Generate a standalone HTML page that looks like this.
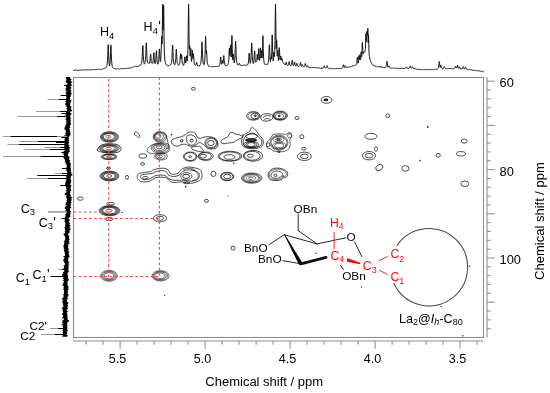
<!DOCTYPE html>
<html><head><meta charset="utf-8"><style>
html,body{margin:0;padding:0;background:#fff;}
body{width:550px;height:393px;overflow:hidden;}
svg{display:block;font-family:"Liberation Sans", sans-serif;will-change:transform;}
</style></head><body>
<svg width="550" height="393" viewBox="0 0 550 393">
<rect x="73.5" y="77.5" width="410" height="260" fill="none" stroke="#8c8c8c" stroke-width="1.1"/>
<line x1="73" y1="341" x2="483.5" y2="341" stroke="#8c8c8c" stroke-width="1.1"/>
<line x1="86.10" y1="341" x2="86.10" y2="344.8" stroke="#8c8c8c" stroke-width="1"/>
<line x1="103.10" y1="341" x2="103.10" y2="344.8" stroke="#8c8c8c" stroke-width="1"/>
<line x1="120.10" y1="341" x2="120.10" y2="348.8" stroke="#8c8c8c" stroke-width="1"/>
<line x1="137.10" y1="341" x2="137.10" y2="344.8" stroke="#8c8c8c" stroke-width="1"/>
<line x1="154.10" y1="341" x2="154.10" y2="344.8" stroke="#8c8c8c" stroke-width="1"/>
<line x1="171.10" y1="341" x2="171.10" y2="344.8" stroke="#8c8c8c" stroke-width="1"/>
<line x1="188.10" y1="341" x2="188.10" y2="344.8" stroke="#8c8c8c" stroke-width="1"/>
<line x1="205.10" y1="341" x2="205.10" y2="348.8" stroke="#8c8c8c" stroke-width="1"/>
<line x1="222.10" y1="341" x2="222.10" y2="344.8" stroke="#8c8c8c" stroke-width="1"/>
<line x1="239.10" y1="341" x2="239.10" y2="344.8" stroke="#8c8c8c" stroke-width="1"/>
<line x1="256.10" y1="341" x2="256.10" y2="344.8" stroke="#8c8c8c" stroke-width="1"/>
<line x1="273.10" y1="341" x2="273.10" y2="344.8" stroke="#8c8c8c" stroke-width="1"/>
<line x1="290.10" y1="341" x2="290.10" y2="348.8" stroke="#8c8c8c" stroke-width="1"/>
<line x1="307.10" y1="341" x2="307.10" y2="344.8" stroke="#8c8c8c" stroke-width="1"/>
<line x1="324.10" y1="341" x2="324.10" y2="344.8" stroke="#8c8c8c" stroke-width="1"/>
<line x1="341.10" y1="341" x2="341.10" y2="344.8" stroke="#8c8c8c" stroke-width="1"/>
<line x1="358.10" y1="341" x2="358.10" y2="344.8" stroke="#8c8c8c" stroke-width="1"/>
<line x1="375.10" y1="341" x2="375.10" y2="348.8" stroke="#8c8c8c" stroke-width="1"/>
<line x1="392.10" y1="341" x2="392.10" y2="344.8" stroke="#8c8c8c" stroke-width="1"/>
<line x1="409.10" y1="341" x2="409.10" y2="344.8" stroke="#8c8c8c" stroke-width="1"/>
<line x1="426.10" y1="341" x2="426.10" y2="344.8" stroke="#8c8c8c" stroke-width="1"/>
<line x1="443.10" y1="341" x2="443.10" y2="344.8" stroke="#8c8c8c" stroke-width="1"/>
<line x1="460.10" y1="341" x2="460.10" y2="348.8" stroke="#8c8c8c" stroke-width="1"/>
<line x1="477.10" y1="341" x2="477.10" y2="344.8" stroke="#8c8c8c" stroke-width="1"/>
<line x1="487" y1="77" x2="487" y2="337.5" stroke="#8c8c8c" stroke-width="1.1"/>
<line x1="487" y1="81.20" x2="494.8" y2="81.20" stroke="#8c8c8c" stroke-width="1"/>
<line x1="487" y1="90.04" x2="490.8" y2="90.04" stroke="#8c8c8c" stroke-width="1"/>
<line x1="487" y1="98.88" x2="490.8" y2="98.88" stroke="#8c8c8c" stroke-width="1"/>
<line x1="487" y1="107.72" x2="490.8" y2="107.72" stroke="#8c8c8c" stroke-width="1"/>
<line x1="487" y1="116.56" x2="490.8" y2="116.56" stroke="#8c8c8c" stroke-width="1"/>
<line x1="487" y1="125.40" x2="494.8" y2="125.40" stroke="#8c8c8c" stroke-width="1"/>
<line x1="487" y1="134.24" x2="490.8" y2="134.24" stroke="#8c8c8c" stroke-width="1"/>
<line x1="487" y1="143.08" x2="490.8" y2="143.08" stroke="#8c8c8c" stroke-width="1"/>
<line x1="487" y1="151.92" x2="490.8" y2="151.92" stroke="#8c8c8c" stroke-width="1"/>
<line x1="487" y1="160.76" x2="490.8" y2="160.76" stroke="#8c8c8c" stroke-width="1"/>
<line x1="487" y1="169.60" x2="494.8" y2="169.60" stroke="#8c8c8c" stroke-width="1"/>
<line x1="487" y1="178.44" x2="490.8" y2="178.44" stroke="#8c8c8c" stroke-width="1"/>
<line x1="487" y1="187.28" x2="490.8" y2="187.28" stroke="#8c8c8c" stroke-width="1"/>
<line x1="487" y1="196.12" x2="490.8" y2="196.12" stroke="#8c8c8c" stroke-width="1"/>
<line x1="487" y1="204.96" x2="490.8" y2="204.96" stroke="#8c8c8c" stroke-width="1"/>
<line x1="487" y1="213.80" x2="494.8" y2="213.80" stroke="#8c8c8c" stroke-width="1"/>
<line x1="487" y1="222.64" x2="490.8" y2="222.64" stroke="#8c8c8c" stroke-width="1"/>
<line x1="487" y1="231.48" x2="490.8" y2="231.48" stroke="#8c8c8c" stroke-width="1"/>
<line x1="487" y1="240.32" x2="490.8" y2="240.32" stroke="#8c8c8c" stroke-width="1"/>
<line x1="487" y1="249.16" x2="490.8" y2="249.16" stroke="#8c8c8c" stroke-width="1"/>
<line x1="487" y1="258.00" x2="494.8" y2="258.00" stroke="#8c8c8c" stroke-width="1"/>
<line x1="487" y1="266.84" x2="490.8" y2="266.84" stroke="#8c8c8c" stroke-width="1"/>
<line x1="487" y1="275.68" x2="490.8" y2="275.68" stroke="#8c8c8c" stroke-width="1"/>
<line x1="487" y1="284.52" x2="490.8" y2="284.52" stroke="#8c8c8c" stroke-width="1"/>
<line x1="487" y1="293.36" x2="490.8" y2="293.36" stroke="#8c8c8c" stroke-width="1"/>
<line x1="487" y1="302.20" x2="494.8" y2="302.20" stroke="#8c8c8c" stroke-width="1"/>
<line x1="487" y1="311.04" x2="490.8" y2="311.04" stroke="#8c8c8c" stroke-width="1"/>
<line x1="487" y1="319.88" x2="490.8" y2="319.88" stroke="#8c8c8c" stroke-width="1"/>
<line x1="487" y1="328.72" x2="490.8" y2="328.72" stroke="#8c8c8c" stroke-width="1"/>
<text x="117.6" y="362.9" font-size="12.6" text-anchor="middle" fill="#000" >5.5</text>
<text x="202.6" y="362.9" font-size="12.6" text-anchor="middle" fill="#000" >5.0</text>
<text x="287.6" y="362.9" font-size="12.6" text-anchor="middle" fill="#000" >4.5</text>
<text x="372.6" y="362.9" font-size="12.6" text-anchor="middle" fill="#000" >4.0</text>
<text x="457.6" y="362.9" font-size="12.6" text-anchor="middle" fill="#000" >3.5</text>
<text x="499.6" y="87.1" font-size="12.8" text-anchor="start" fill="#000" >60</text>
<text x="499.6" y="175.5" font-size="12.8" text-anchor="start" fill="#000" >80</text>
<text x="499.6" y="263.9" font-size="12.8" text-anchor="start" fill="#000" >100</text>
<text x="264.2" y="386.3" font-size="13" text-anchor="middle" fill="#000" >Chemical shift / ppm</text>
<text transform="translate(543.7,221) rotate(-90)" font-size="13" text-anchor="middle" fill="#000">Chemical shift / ppm</text>
<polyline fill="none" stroke="#111" stroke-width="1.0" stroke-linejoin="round" points="73.0,70.28 73.2,70.18 73.5,70.43 73.8,70.13 74.0,70.35 74.2,70.26 74.5,70.10 74.8,70.31 75.0,70.07 75.2,70.26 75.5,70.07 75.8,70.07 76.0,70.23 76.2,70.42 76.5,70.06 76.8,70.10 77.0,70.29 77.2,70.45 77.5,70.25 77.8,70.15 78.0,70.43 78.2,69.96 78.5,70.36 78.8,70.07 79.0,69.98 79.2,69.96 79.5,70.05 79.8,70.30 80.0,69.97 80.2,70.16 80.5,70.18 80.8,70.04 81.0,70.12 81.2,69.87 81.5,69.86 81.8,69.92 82.0,70.15 82.2,70.01 82.5,69.95 82.8,70.08 83.0,70.00 83.2,69.92 83.5,70.16 83.8,70.10 84.0,69.86 84.2,70.02 84.5,69.99 84.8,70.15 85.0,70.07 85.2,69.84 85.5,70.18 85.8,69.74 86.0,69.88 86.2,70.04 86.5,69.73 86.8,69.89 87.0,69.66 87.2,69.96 87.5,70.00 87.8,69.90 88.0,70.04 88.2,69.75 88.5,69.93 88.8,69.87 89.0,69.86 89.2,69.79 89.5,69.97 89.8,70.01 90.0,69.77 90.2,69.86 90.5,69.55 90.8,69.86 91.0,69.82 91.2,69.99 91.5,69.89 91.8,69.61 92.0,69.66 92.2,69.79 92.5,69.46 92.8,69.67 93.0,69.51 93.2,69.48 93.5,69.44 93.8,69.79 94.0,69.46 94.2,69.51 94.5,69.57 94.8,69.80 95.0,69.40 95.2,69.57 95.5,69.62 95.8,69.77 96.0,69.73 96.2,69.75 96.5,69.44 96.8,69.50 97.0,69.47 97.2,69.72 97.5,69.75 97.8,69.34 98.0,69.34 98.2,69.36 98.5,69.35 98.8,69.47 99.0,69.51 99.2,69.33 99.5,69.19 99.8,69.38 100.0,69.35 100.2,69.41 100.5,69.57 100.8,69.40 101.0,69.28 101.2,69.29 101.5,69.28 101.8,68.93 102.0,69.31 102.2,69.21 102.5,69.21 102.8,69.13 103.0,68.88 103.2,68.83 103.5,68.62 103.8,68.83 104.0,68.48 104.2,68.41 104.5,68.40 104.8,68.28 105.0,68.26 105.2,67.99 105.5,67.81 105.8,67.69 106.0,67.42 106.2,67.26 106.5,66.67 106.8,66.47 107.0,65.35 107.2,63.46 107.5,60.61 107.8,55.49 108.0,48.05 108.2,44.61 108.2,45.22 108.5,51.45 108.8,58.02 109.0,62.19 109.2,64.32 109.5,65.69 109.8,65.08 110.0,63.18 110.2,60.18 110.5,54.08 110.8,46.56 110.9,45.03 111.0,45.75 111.2,52.63 111.5,59.19 111.8,62.65 112.0,65.00 112.2,66.47 112.5,67.19 112.8,67.63 113.0,67.78 113.2,68.07 113.5,68.15 113.8,68.59 114.0,68.57 114.2,68.77 114.5,68.61 114.8,68.60 115.0,68.93 115.2,69.05 115.5,69.01 115.8,69.01 116.0,69.03 116.2,69.00 116.5,68.75 116.8,68.91 117.0,68.83 117.2,68.67 117.5,68.67 117.8,68.78 118.0,68.76 118.2,68.97 118.5,69.09 118.8,68.82 119.0,69.06 119.2,69.07 119.5,69.05 119.8,68.74 120.0,68.66 120.2,68.65 120.5,68.62 120.8,68.62 121.0,68.82 121.2,68.94 121.5,68.90 121.8,68.71 122.0,68.78 122.2,68.85 122.5,68.48 122.8,68.75 123.0,68.87 123.2,68.79 123.5,68.76 123.8,68.62 124.0,68.45 124.2,68.75 124.5,68.51 124.8,68.73 125.0,68.80 125.2,68.48 125.5,68.46 125.8,68.70 126.0,68.56 126.2,68.25 126.5,68.20 126.8,68.18 127.0,68.53 127.2,68.45 127.5,68.09 127.8,68.40 128.0,68.45 128.2,68.25 128.5,68.07 128.8,68.14 129.0,67.90 129.2,67.81 129.5,68.25 129.8,68.06 130.0,67.97 130.2,68.14 130.5,67.86 130.8,68.04 131.0,67.99 131.2,67.65 131.5,67.63 131.8,67.62 132.0,67.56 132.2,67.58 132.5,67.27 132.8,67.20 133.0,66.91 133.2,67.15 133.5,66.73 133.8,66.63 134.0,66.54 134.2,66.69 134.5,66.43 134.8,66.67 135.0,66.44 135.2,66.44 135.5,66.42 135.8,66.16 136.0,66.35 136.2,66.20 136.5,66.10 136.8,66.47 137.0,66.14 137.2,66.27 137.5,66.38 137.8,66.27 138.0,66.13 138.2,66.20 138.5,66.20 138.8,66.16 139.0,65.68 139.2,65.76 139.5,65.45 139.8,65.31 140.0,65.41 140.2,65.12 140.5,64.99 140.8,64.91 141.0,64.55 141.2,63.86 141.5,63.24 141.8,62.05 142.0,60.11 142.2,56.71 142.5,50.85 142.8,45.72 142.8,45.49 143.0,48.52 143.2,54.69 143.5,59.15 143.8,61.64 144.0,62.70 144.2,63.70 144.5,64.17 144.8,63.83 145.0,62.68 145.2,61.39 145.5,59.34 145.8,55.20 146.0,48.77 146.2,42.81 146.3,42.88 146.5,46.12 146.8,53.31 147.0,57.89 147.2,60.96 147.5,62.53 147.8,62.93 148.0,63.25 148.2,63.24 148.5,62.83 148.8,63.16 149.0,62.85 149.2,62.87 149.5,63.10 149.8,62.99 150.0,60.84 150.2,57.87 150.5,54.46 150.6,53.92 150.8,54.83 151.0,58.55 151.2,61.58 151.5,62.75 151.8,63.06 152.0,63.06 152.2,62.90 152.5,63.12 152.8,63.33 153.0,62.14 153.2,59.62 153.5,56.29 153.8,52.78 153.8,52.74 154.0,54.15 154.2,58.39 154.5,61.15 154.8,63.15 155.0,63.78 155.2,63.34 155.5,62.34 155.8,60.54 156.0,56.92 156.2,52.02 156.4,50.72 156.5,51.69 156.8,55.88 157.0,59.87 157.2,61.87 157.5,63.14 157.8,64.22 158.0,63.95 158.2,62.99 158.5,62.10 158.8,59.60 159.0,55.58 159.2,49.92 159.4,48.88 159.5,49.15 159.8,54.56 160.0,58.86 160.2,61.44 160.5,61.61 160.8,59.76 161.0,55.86 161.2,49.44 161.5,40.49 161.7,36.27 161.8,36.50 162.0,44.06 162.2,36.99 162.5,15.47 162.7,4.11 162.8,4.97 163.0,25.20 163.2,30.18 163.5,8.74 163.6,5.34 163.8,12.27 164.0,34.03 164.2,48.05 164.5,54.94 164.8,59.00 165.0,61.03 165.2,62.17 165.5,63.18 165.8,64.01 166.0,64.02 166.2,64.70 166.5,64.75 166.8,64.97 167.0,65.30 167.2,65.20 167.5,65.36 167.8,65.53 168.0,65.75 168.2,65.49 168.5,65.79 168.8,65.74 169.0,65.72 169.2,65.57 169.5,65.47 169.8,65.23 170.0,65.15 170.2,64.97 170.5,65.09 170.8,64.55 171.0,64.06 171.2,63.36 171.5,62.67 171.8,60.88 172.0,57.55 172.2,51.84 172.5,45.68 172.6,44.90 172.8,46.73 173.0,53.09 173.2,58.27 173.5,61.05 173.8,63.03 174.0,64.01 174.2,64.42 174.5,64.68 174.8,64.82 175.0,63.91 175.2,62.99 175.5,61.20 175.8,58.49 176.0,53.76 176.2,49.47 176.3,49.15 176.5,51.64 176.8,56.63 177.0,60.39 177.2,62.35 177.5,63.68 177.8,64.21 178.0,64.66 178.2,65.11 178.5,65.29 178.8,65.43 179.0,65.14 179.2,64.85 179.5,64.16 179.8,63.09 180.0,61.23 180.2,57.64 180.5,53.90 180.6,53.74 180.8,54.38 181.0,58.61 181.2,58.52 181.5,54.82 181.6,54.77 181.8,55.77 182.0,59.24 182.2,62.09 182.5,63.72 182.8,64.29 183.0,65.02 183.2,65.36 183.5,65.42 183.8,64.96 184.0,64.24 184.2,62.81 184.5,60.66 184.8,57.59 184.9,56.80 185.0,56.94 185.2,59.65 185.5,62.23 185.8,63.02 186.0,60.84 186.2,58.00 186.5,55.73 186.8,57.91 187.0,61.12 187.2,61.01 187.5,58.49 187.8,53.96 188.0,46.11 188.2,29.83 188.5,7.54 188.6,4.22 188.8,11.32 189.0,33.59 189.2,48.24 189.5,48.69 189.7,45.79 189.8,46.09 190.0,51.54 190.2,56.22 190.5,50.84 190.7,48.44 190.8,48.38 191.0,52.99 191.2,58.21 191.5,61.45 191.8,59.30 192.0,54.64 192.2,50.53 192.3,50.09 192.5,52.36 192.8,57.44 193.0,58.70 193.2,54.48 193.4,53.53 193.5,53.76 193.8,57.57 194.0,61.08 194.2,63.28 194.5,64.41 194.8,64.79 195.0,64.79 195.2,65.08 195.5,65.20 195.8,65.33 196.0,64.55 196.2,63.77 196.5,62.12 196.6,62.34 196.8,62.69 197.0,63.62 197.2,64.91 197.5,65.71 197.8,66.13 198.0,65.97 198.2,65.92 198.5,65.93 198.8,66.28 199.0,65.82 199.2,65.89 199.5,65.51 199.8,65.50 200.0,65.43 200.2,64.61 200.5,64.35 200.8,63.26 201.0,61.93 201.2,59.18 201.5,54.20 201.8,47.13 202.0,41.99 202.2,46.70 202.5,54.11 202.8,59.10 203.0,61.74 203.2,63.21 203.5,64.07 203.8,64.78 204.0,64.68 204.2,64.22 204.5,62.62 204.8,60.91 205.0,56.93 205.2,48.64 205.5,38.24 205.6,36.51 205.8,40.04 206.0,50.74 206.2,53.61 206.5,50.35 206.8,53.93 207.0,58.64 207.2,61.68 207.5,63.48 207.8,64.42 208.0,64.94 208.2,65.37 208.5,66.00 208.8,65.92 209.0,66.39 209.2,66.15 209.5,66.24 209.8,66.43 210.0,66.32 210.2,66.45 210.5,66.78 210.8,66.77 211.0,66.75 211.2,66.66 211.5,66.80 211.8,66.82 212.0,66.62 212.2,66.70 212.5,66.37 212.8,66.71 213.0,66.57 213.2,66.72 213.5,66.66 213.8,66.48 214.0,66.36 214.2,66.80 214.5,66.40 214.8,66.57 215.0,66.50 215.2,66.48 215.5,66.70 215.8,66.81 216.0,66.45 216.2,66.65 216.5,66.47 216.8,66.59 217.0,66.51 217.2,66.39 217.5,66.38 217.8,66.39 218.0,66.68 218.2,66.41 218.5,66.19 218.8,66.41 219.0,66.28 219.2,65.74 219.5,65.17 219.8,64.52 220.0,63.30 220.2,61.35 220.5,58.23 220.7,56.97 220.8,57.07 221.0,59.67 221.2,62.53 221.5,64.10 221.8,64.34 222.0,62.87 222.2,61.03 222.4,60.44 222.5,60.65 222.8,62.28 223.0,63.39 223.2,61.82 223.5,58.26 223.8,55.61 223.8,55.56 224.0,57.20 224.2,60.29 224.5,62.68 224.8,64.00 225.0,64.83 225.2,65.30 225.5,65.84 225.8,65.96 226.0,65.92 226.2,65.43 226.5,65.38 226.8,65.65 227.0,65.67 227.2,65.38 227.5,65.27 227.8,64.61 228.0,64.27 228.2,63.69 228.5,62.24 228.8,59.78 229.0,55.52 229.2,49.58 229.4,48.00 229.5,48.72 229.8,54.15 230.0,55.64 230.2,49.32 230.5,44.91 230.8,49.15 231.0,55.63 231.2,57.10 231.5,50.03 231.8,38.57 231.9,35.44 232.0,36.82 232.2,48.15 232.5,56.07 232.8,59.99 233.0,58.44 233.2,54.70 233.4,53.87 233.5,54.37 233.8,57.64 234.0,60.82 234.2,62.92 234.5,61.89 234.8,59.67 235.0,55.81 235.2,49.56 235.5,42.11 235.6,41.30 235.8,43.41 236.0,51.21 236.2,56.90 236.5,60.35 236.8,62.03 237.0,63.03 237.2,63.73 237.5,64.56 237.8,64.75 238.0,64.78 238.2,64.80 238.5,65.09 238.8,64.80 239.0,63.94 239.2,63.21 239.3,63.38 239.5,63.85 239.8,64.28 240.0,64.71 240.2,65.07 240.5,65.13 240.8,65.27 241.0,65.03 241.2,65.34 241.5,65.31 241.8,65.20 242.0,65.05 242.2,65.44 242.5,65.11 242.8,65.36 243.0,65.07 243.2,65.06 243.5,65.32 243.8,65.09 244.0,65.41 244.2,65.17 244.5,65.01 244.8,65.02 245.0,65.11 245.2,65.22 245.5,65.35 245.8,64.93 246.0,65.04 246.2,64.94 246.5,65.30 246.8,64.86 247.0,64.80 247.2,64.78 247.5,64.74 247.8,64.66 248.0,64.13 248.2,63.18 248.5,61.79 248.8,59.05 249.0,54.85 249.2,53.04 249.2,53.54 249.5,56.66 249.8,59.86 250.0,62.34 250.2,63.33 250.5,62.38 250.8,60.79 251.0,57.97 251.2,53.01 251.5,46.12 251.7,43.03 251.8,43.55 252.0,48.93 252.2,55.77 252.5,59.29 252.8,61.55 253.0,63.05 253.2,63.63 253.5,63.25 253.8,61.79 254.0,59.73 254.2,55.81 254.5,51.78 254.6,50.85 254.8,52.16 255.0,56.99 255.2,60.08 255.5,62.04 255.8,62.10 256.0,61.95 256.2,61.49 256.5,61.41 256.8,60.40 257.0,57.56 257.2,54.29 257.3,54.42 257.5,56.09 257.8,59.39 258.0,59.94 258.2,56.60 258.5,51.12 258.7,48.58 258.8,48.98 259.0,53.15 259.2,57.98 259.5,60.79 259.8,59.20 260.0,54.93 260.2,49.17 260.4,47.82 260.5,48.07 260.8,53.47 261.0,58.12 261.2,53.72 261.5,50.63 261.8,53.44 262.0,58.01 262.2,56.98 262.5,50.10 262.8,39.42 262.9,35.64 263.0,37.57 263.2,48.25 263.5,56.15 263.8,60.12 264.0,62.11 264.2,63.14 264.5,63.86 264.8,64.34 265.0,64.60 265.2,64.27 265.5,64.34 265.8,64.62 266.0,64.37 266.2,64.27 266.5,64.25 266.8,64.50 267.0,64.37 267.2,64.68 267.5,64.60 267.8,64.37 268.0,63.40 268.2,62.34 268.5,60.73 268.8,58.06 269.0,53.14 269.2,46.52 269.4,44.67 269.5,45.57 269.8,51.81 270.0,57.35 270.2,60.62 270.5,61.68 270.8,58.95 271.0,56.91 271.2,59.04 271.5,57.56 271.8,51.42 272.0,40.41 272.2,34.82 272.2,34.99 272.5,45.13 272.8,54.30 273.0,59.01 273.2,60.98 273.5,57.54 273.8,53.16 273.9,52.05 274.0,52.88 274.2,56.66 274.5,56.55 274.8,51.36 275.0,40.48 275.2,20.60 275.5,4.00 275.8,20.34 276.0,40.57 276.2,48.70 276.5,41.20 276.6,39.77 276.8,42.04 277.0,49.94 277.2,56.16 277.5,54.53 277.8,50.30 277.8,50.32 278.0,52.23 278.2,57.38 278.5,60.58 278.8,57.63 279.0,52.75 279.2,48.20 279.3,47.60 279.5,50.36 279.8,55.99 280.0,59.70 280.2,59.89 280.5,58.53 280.8,56.05 280.8,55.98 281.0,57.51 281.2,59.86 281.5,59.93 281.8,59.75 282.0,58.41 282.2,60.09 282.5,61.67 282.8,62.15 283.0,62.47 283.2,63.10 283.5,63.27 283.8,63.29 284.0,63.53 284.2,63.89 284.5,64.15 284.8,64.36 285.0,64.24 285.2,64.41 285.5,64.79 285.8,63.83 286.0,62.54 286.2,62.00 286.2,62.37 286.5,63.09 286.8,64.38 287.0,64.98 287.2,65.24 287.5,65.53 287.8,65.65 288.0,65.39 288.2,65.06 288.5,64.76 288.8,63.48 289.0,61.91 289.2,61.70 289.2,61.51 289.5,62.95 289.8,64.13 290.0,65.21 290.2,65.47 290.5,65.61 290.8,65.51 291.0,65.54 291.2,65.17 291.5,64.57 291.8,62.84 292.0,61.20 292.2,60.24 292.2,60.37 292.5,61.78 292.8,63.62 293.0,64.82 293.2,65.64 293.5,65.59 293.8,65.42 294.0,64.90 294.2,63.81 294.5,62.12 294.6,61.91 294.8,62.71 295.0,64.14 295.2,64.99 295.5,65.41 295.8,66.21 296.0,65.86 296.2,65.66 296.5,64.70 296.8,63.74 296.9,63.13 297.0,63.58 297.2,64.33 297.5,65.35 297.8,66.12 298.0,66.43 298.2,66.30 298.5,66.44 298.8,66.53 299.0,66.50 299.2,66.29 299.5,65.90 299.8,65.51 300.0,64.94 300.2,63.75 300.5,62.47 300.8,63.61 301.0,65.02 301.2,65.50 301.5,66.38 301.8,65.71 302.0,65.23 302.2,64.55 302.3,64.56 302.5,64.78 302.8,65.66 303.0,66.32 303.2,66.58 303.5,66.89 303.8,66.81 304.0,66.68 304.2,66.27 304.5,66.19 304.8,65.46 305.0,64.21 305.2,63.47 305.3,63.44 305.5,63.84 305.8,64.96 306.0,65.99 306.2,66.30 306.5,66.61 306.8,66.94 307.0,66.62 307.2,66.43 307.5,65.94 307.7,65.47 307.8,65.79 308.0,65.98 308.2,66.81 308.5,67.15 308.8,67.20 309.0,67.09 309.2,67.39 309.5,67.35 309.8,67.66 310.0,67.26 310.2,67.64 310.5,67.73 310.8,67.61 311.0,67.67 311.2,67.37 311.5,67.78 311.8,67.55 312.0,67.80 312.2,67.80 312.5,67.44 312.8,67.76 313.0,67.85 313.2,67.43 313.5,67.59 313.8,67.81 314.0,67.52 314.2,67.91 314.5,67.61 314.8,67.90 315.0,67.58 315.2,67.77 315.5,68.00 315.8,67.66 316.0,67.70 316.2,67.84 316.5,67.76 316.8,67.63 317.0,67.72 317.2,67.72 317.5,68.13 317.8,68.01 318.0,68.14 318.2,67.79 318.5,68.11 318.8,67.79 319.0,68.01 319.2,68.08 319.5,67.96 319.8,68.23 320.0,68.08 320.2,68.11 320.5,68.28 320.8,67.90 321.0,68.36 321.2,68.19 321.5,68.09 321.8,68.31 322.0,68.06 322.2,68.43 322.5,68.20 322.8,68.04 323.0,68.17 323.2,67.87 323.5,67.50 323.8,67.34 324.0,66.26 324.2,65.98 324.3,65.68 324.5,66.25 324.8,67.26 325.0,67.64 325.2,68.02 325.5,68.04 325.8,67.99 326.0,67.91 326.2,67.79 326.5,67.69 326.8,67.01 327.0,66.18 327.2,66.00 327.2,65.65 327.5,66.43 327.8,67.46 328.0,67.65 328.2,67.92 328.5,68.27 328.8,68.26 329.0,68.47 329.2,68.44 329.5,68.64 329.8,68.65 330.0,68.48 330.2,68.68 330.5,68.61 330.8,68.44 331.0,68.83 331.2,68.49 331.5,68.44 331.8,68.41 332.0,68.68 332.2,68.79 332.5,68.75 332.8,68.55 333.0,68.48 333.2,68.35 333.5,68.67 333.8,68.63 334.0,68.52 334.2,68.66 334.5,68.56 334.8,68.80 335.0,68.70 335.2,68.45 335.5,68.78 335.8,68.35 336.0,68.59 336.2,68.52 336.5,68.43 336.8,68.34 337.0,68.70 337.2,68.31 337.5,68.58 337.8,68.77 338.0,68.36 338.2,68.39 338.5,68.59 338.8,68.53 339.0,68.60 339.2,68.68 339.5,68.35 339.8,68.42 340.0,68.41 340.2,68.24 340.5,68.63 340.8,68.54 341.0,68.46 341.2,68.07 341.5,68.45 341.8,68.36 342.0,68.14 342.2,68.09 342.5,67.66 342.8,67.06 343.0,66.17 343.2,65.16 343.4,64.77 343.5,65.03 343.8,66.18 344.0,67.00 344.2,67.56 344.5,67.59 344.8,66.88 345.0,66.26 345.2,65.50 345.3,65.64 345.5,65.85 345.8,66.49 346.0,67.21 346.2,67.65 346.5,67.31 346.8,67.59 347.0,67.11 347.2,67.19 347.5,67.13 347.8,67.34 348.0,67.39 348.2,67.24 348.5,66.98 348.8,67.20 349.0,66.87 349.2,66.78 349.5,67.06 349.8,66.86 350.0,66.84 350.2,66.78 350.5,66.89 350.8,66.58 351.0,66.72 351.2,66.59 351.5,66.62 351.8,66.35 352.0,66.44 352.2,66.30 352.5,66.11 352.8,65.99 353.0,66.13 353.2,65.78 353.5,66.13 353.8,65.66 353.9,65.56 354.0,65.56 354.2,65.89 354.5,65.50 354.8,65.30 355.0,65.14 355.2,65.04 355.5,65.25 355.8,65.10 356.0,64.99 356.2,64.90 356.5,64.43 356.8,63.34 357.0,60.84 357.2,57.98 357.4,57.16 357.5,57.59 357.8,60.10 358.0,63.14 358.2,63.09 358.5,60.42 358.8,56.53 358.9,55.65 359.0,56.04 359.2,59.30 359.5,59.60 359.8,55.69 359.9,54.57 360.0,55.15 360.2,58.74 360.5,59.71 360.8,58.53 361.0,53.80 361.2,52.03 361.2,51.91 361.5,55.87 361.8,56.53 362.0,51.84 362.2,44.32 362.4,42.29 362.5,43.47 362.8,50.52 363.0,53.77 363.2,53.40 363.4,51.90 363.5,52.67 363.8,53.16 364.0,52.65 364.2,52.57 364.5,52.20 364.8,51.82 365.0,50.81 365.2,49.89 365.5,48.33 365.8,37.19 365.9,33.68 366.0,35.12 366.2,41.53 366.5,38.35 366.8,35.40 366.9,31.45 367.0,33.66 367.2,34.36 367.5,35.26 367.8,28.94 367.8,28.40 368.0,35.78 368.2,43.11 368.5,34.70 368.8,43.21 369.0,53.36 369.1,53.68 369.2,55.16 369.5,56.69 369.8,58.01 370.0,59.38 370.2,60.23 370.5,60.83 370.8,61.78 371.0,62.08 371.2,62.93 371.5,63.32 371.8,63.75 372.0,64.00 372.2,64.16 372.5,64.44 372.8,64.67 373.0,65.13 373.2,64.92 373.5,65.49 373.8,65.22 374.0,65.45 374.2,65.61 374.5,66.05 374.8,65.95 375.0,65.99 375.2,66.34 375.5,66.10 375.8,66.29 376.0,66.40 376.2,66.59 376.5,66.65 376.8,66.66 377.0,66.57 377.2,66.61 377.5,66.58 377.8,66.53 378.0,66.08 378.2,66.49 378.5,66.76 378.8,66.94 379.0,67.15 379.2,67.09 379.5,66.89 379.8,67.10 380.0,67.29 380.2,66.48 380.5,65.92 380.6,65.90 380.8,66.26 381.0,66.92 381.2,67.03 381.5,67.14 381.8,67.21 382.0,67.28 382.2,67.40 382.5,67.24 382.8,67.35 383.0,67.30 383.2,67.71 383.5,67.61 383.8,67.32 384.0,67.76 384.2,67.35 384.5,67.51 384.8,67.83 385.0,67.75 385.2,67.64 385.5,67.34 385.8,66.98 386.0,66.80 386.2,65.83 386.5,64.62 386.8,62.75 387.0,61.27 387.2,62.77 387.5,64.95 387.8,66.17 388.0,66.79 388.2,67.27 388.5,66.93 388.8,66.08 389.0,65.85 389.2,66.23 389.5,67.10 389.8,67.64 390.0,67.66 390.2,67.88 390.5,68.04 390.8,67.89 391.0,67.80 391.2,68.06 391.5,68.15 391.8,68.11 392.0,68.09 392.2,68.17 392.5,68.10 392.8,68.09 393.0,68.01 393.2,67.95 393.5,68.12 393.8,67.86 394.0,68.03 394.2,68.22 394.5,68.20 394.8,68.17 395.0,67.99 395.2,68.08 395.5,68.11 395.8,68.20 396.0,68.10 396.2,68.25 396.5,68.38 396.8,68.02 397.0,68.26 397.2,68.33 397.5,68.15 397.8,68.21 398.0,68.46 398.2,68.00 398.5,68.26 398.8,68.07 399.0,68.39 399.2,68.48 399.5,68.28 399.8,68.08 400.0,68.32 400.2,68.31 400.5,68.41 400.8,68.32 401.0,68.39 401.2,68.49 401.5,68.34 401.8,68.30 402.0,68.57 402.2,68.21 402.5,68.46 402.8,68.32 403.0,68.51 403.2,68.20 403.5,68.64 403.8,68.33 404.0,68.19 404.2,68.31 404.5,68.38 404.8,68.17 405.0,68.33 405.2,68.27 405.5,68.30 405.8,67.94 406.0,67.56 406.2,67.01 406.5,66.92 406.8,67.38 407.0,67.72 407.2,67.92 407.5,68.41 407.8,68.32 408.0,68.30 408.2,68.28 408.5,68.57 408.8,68.53 409.0,68.35 409.2,68.11 409.5,67.88 409.8,67.23 410.0,66.79 410.2,65.75 410.3,65.87 410.5,66.36 410.8,67.26 411.0,67.71 411.2,67.98 411.5,68.08 411.8,67.47 412.0,67.23 412.2,66.73 412.2,67.00 412.5,67.20 412.8,67.81 413.0,68.08 413.2,68.36 413.5,68.36 413.8,68.34 414.0,68.75 414.2,68.56 414.5,68.57 414.8,68.62 415.0,68.72 415.2,68.74 415.5,68.89 415.8,68.94 416.0,68.84 416.2,69.17 416.5,69.18 416.8,68.83 417.0,69.26 417.2,69.34 417.5,69.33 417.8,69.05 418.0,69.44 418.2,69.39 418.5,69.12 418.8,69.17 419.0,69.68 419.2,69.58 419.5,69.42 419.8,69.39 420.0,69.46 420.2,69.50 420.5,69.77 420.8,69.56 421.0,69.46 421.2,69.84 421.5,69.78 421.8,69.46 422.0,69.83 422.2,69.68 422.5,69.77 422.8,69.71 423.0,69.82 423.2,69.77 423.5,69.79 423.8,69.47 424.0,69.72 424.2,69.63 424.5,69.74 424.8,69.59 425.0,69.81 425.2,69.64 425.5,69.49 425.8,69.48 426.0,69.43 426.2,69.60 426.5,69.39 426.8,69.59 427.0,69.43 427.2,69.60 427.5,69.60 427.8,69.62 428.0,69.78 428.2,69.35 428.5,69.77 428.8,69.58 429.0,69.62 429.2,69.67 429.5,69.76 429.8,69.53 430.0,69.55 430.2,69.82 430.5,69.37 430.8,69.65 431.0,69.65 431.2,69.35 431.5,69.63 431.8,69.67 432.0,69.79 432.2,69.49 432.5,69.82 432.8,69.58 433.0,69.56 433.2,69.76 433.5,69.32 433.8,69.66 434.0,69.60 434.2,69.45 434.5,69.70 434.8,69.44 435.0,69.48 435.2,69.48 435.5,69.56 435.8,69.24 436.0,69.31 436.2,69.26 436.5,69.26 436.8,69.33 437.0,68.98 437.2,69.14 437.5,68.79 437.8,68.65 438.0,68.24 438.2,67.91 438.5,67.37 438.8,65.86 439.0,63.72 439.2,61.50 439.3,61.41 439.5,62.45 439.8,64.97 440.0,66.64 440.2,67.40 440.5,65.81 440.8,65.06 440.8,65.09 441.0,65.49 441.2,66.53 441.5,67.54 441.8,67.88 442.0,68.25 442.2,68.77 442.5,68.70 442.8,68.78 443.0,68.73 443.2,68.60 443.5,68.13 443.8,67.59 444.0,66.82 444.2,66.50 444.2,66.47 444.5,67.11 444.8,67.55 445.0,68.18 445.2,68.29 445.5,68.56 445.8,68.29 446.0,68.37 446.2,68.33 446.5,68.73 446.8,68.82 447.0,68.70 447.2,68.57 447.5,68.81 447.8,68.80 448.0,68.69 448.2,68.54 448.5,68.57 448.8,68.63 449.0,68.58 449.2,68.64 449.5,68.74 449.8,68.89 450.0,68.45 450.2,68.71 450.5,68.44 450.8,68.48 451.0,68.83 451.2,68.71 451.5,68.88 451.8,68.63 452.0,68.41 452.2,68.59 452.5,68.69 452.8,68.85 453.0,68.86 453.2,68.60 453.5,68.56 453.8,68.39 454.0,68.63 454.2,68.36 454.5,68.24 454.8,68.02 455.0,67.73 455.2,67.56 455.5,66.54 455.7,66.63 455.8,66.22 456.0,67.25 456.2,67.58 456.5,67.96 456.8,68.07 457.0,67.29 457.2,66.60 457.5,65.28 457.6,65.08 457.8,65.75 458.0,66.85 458.2,67.80 458.5,68.25 458.8,68.11 459.0,67.96 459.2,67.34 459.5,66.78 459.8,67.48 460.0,67.83 460.2,68.63 460.5,68.76 460.8,68.56 461.0,68.66 461.2,69.05 461.5,69.14 461.8,68.73 462.0,68.77 462.2,68.86 462.5,68.35 462.8,68.29 463.0,67.43 463.2,66.60 463.3,66.73 463.5,67.19 463.8,67.89 464.0,68.55 464.2,68.59 464.5,69.09 464.8,68.70 465.0,68.52 465.2,67.96 465.5,67.24 465.6,67.14 465.8,67.53 466.0,68.29 466.2,68.74 466.5,68.94 466.8,68.98 467.0,68.98 467.2,69.51 467.5,69.43 467.8,69.54 468.0,69.33 468.2,69.51 468.5,69.74 468.8,69.71 469.0,69.64 469.2,69.53 469.5,69.63 469.8,69.89 470.0,69.67 470.2,69.86 470.5,69.86 470.8,70.04 471.0,70.03 471.2,69.80 471.5,69.69 471.8,69.85 472.0,69.97 472.2,70.08 472.5,70.23 472.8,70.30 473.0,69.91 473.2,70.34 473.5,70.36 473.8,70.42 474.0,70.30 474.2,70.19 474.5,70.51 474.8,70.52 475.0,70.49 475.2,70.64 475.5,70.39 475.8,70.29 476.0,70.56 476.2,70.71 476.5,70.45 476.8,70.76 477.0,70.88 477.2,70.56 477.5,70.78 477.8,70.85 478.0,70.78 478.2,70.68 478.5,70.74 478.8,71.02 479.0,71.07 479.2,70.94 479.5,70.79 479.8,71.18 480.0,71.19 480.2,70.96 480.5,71.16 480.8,71.36 481.0,71.38 481.2,71.23 481.5,71.24 481.8,71.33 482.0,71.17 482.2,71.20 482.5,71.23 482.8,71.52 483.0,71.38 483.2,71.52 483.5,71.47 483.8,71.56 484.0,71.41"/>
<polygon fill="#000" points="66.7,77.0 65.4,77.6 66.0,78.2 66.2,78.8 66.8,79.4 65.4,80.0 66.4,80.6 65.9,81.2 65.5,81.8 66.1,82.4 67.3,83.0 67.4,83.6 67.4,84.2 66.6,84.8 66.6,85.4 65.2,86.0 65.9,86.6 66.5,87.2 66.3,87.8 65.6,88.4 65.6,89.0 66.2,89.6 64.8,90.2 66.8,90.8 66.8,91.4 65.4,92.0 65.7,92.6 65.8,93.2 66.1,93.8 66.8,94.4 65.6,95.0 65.7,95.6 65.9,96.2 66.5,96.8 66.4,97.4 66.1,98.0 66.4,98.6 65.6,99.2 65.5,99.8 66.5,100.4 66.3,101.0 64.8,101.6 66.1,102.2 66.1,102.8 64.7,103.4 65.8,104.0 64.9,104.6 65.7,105.2 66.6,105.8 65.9,106.4 67.0,107.0 67.1,107.6 67.2,108.2 65.9,108.8 67.2,109.4 66.9,110.0 66.9,110.6 66.7,111.2 65.7,111.8 66.1,112.4 66.4,113.0 66.2,113.6 64.6,114.2 66.7,114.8 65.2,115.4 65.8,116.0 65.0,116.6 65.6,117.2 66.9,117.8 65.5,118.4 66.7,119.0 65.1,119.6 66.1,120.2 66.7,120.8 65.7,121.4 66.8,122.0 66.1,122.6 66.7,123.2 66.1,123.8 65.5,124.4 66.6,125.0 65.4,125.6 65.3,126.2 64.8,126.8 64.5,127.4 65.4,128.0 64.1,128.6 64.2,129.2 65.6,129.8 65.5,130.4 65.6,131.0 66.0,131.6 65.7,132.2 66.1,132.8 64.8,133.4 65.8,134.0 65.6,134.6 65.7,135.2 63.6,135.8 64.8,136.4 64.6,137.0 63.2,137.6 64.9,138.2 64.8,138.8 64.9,139.4 63.9,140.0 64.9,140.6 64.3,141.2 63.9,141.8 63.4,142.4 64.8,143.0 64.3,143.6 64.6,144.2 64.5,144.8 64.2,145.4 65.0,146.0 64.1,146.6 63.9,147.2 65.1,147.8 64.0,148.4 65.1,149.0 64.1,149.6 65.0,150.2 64.6,150.8 63.4,151.4 63.2,152.0 64.3,152.6 62.4,153.2 64.0,153.8 63.4,154.4 63.7,155.0 64.0,155.6 64.6,156.2 63.0,156.8 63.3,157.4 64.0,158.0 63.8,158.6 64.7,159.2 64.7,159.8 65.1,160.4 65.0,161.0 65.4,161.6 64.3,162.2 66.1,162.8 66.5,163.4 64.9,164.0 66.7,164.6 66.4,165.2 66.9,165.8 66.7,166.4 66.6,167.0 66.6,167.6 65.2,168.2 65.9,168.8 66.5,169.4 66.3,170.0 66.1,170.6 66.9,171.2 67.2,171.8 67.2,172.4 67.6,173.0 66.2,173.6 67.0,174.2 67.4,174.8 67.2,175.4 67.2,176.0 65.5,176.6 66.9,177.2 66.3,177.8 66.6,178.4 64.8,179.0 66.6,179.6 66.4,180.2 66.0,180.8 65.4,181.4 65.7,182.0 65.6,182.6 65.5,183.2 65.0,183.8 65.1,184.4 65.4,185.0 66.1,185.6 66.0,186.2 65.5,186.8 66.1,187.4 66.5,188.0 65.9,188.6 66.7,189.2 66.7,189.8 65.6,190.4 66.3,191.0 66.5,191.6 66.4,192.2 65.6,192.8 64.5,193.4 64.8,194.0 64.4,194.6 66.0,195.2 66.6,195.8 66.1,196.4 65.3,197.0 66.6,197.6 66.8,198.2 66.4,198.8 67.1,199.4 67.1,200.0 66.3,200.6 67.1,201.2 66.6,201.8 66.2,202.4 65.0,203.0 66.4,203.6 64.8,204.2 66.2,204.8 66.7,205.4 64.8,206.0 66.1,206.6 64.9,207.2 65.0,207.8 64.6,208.4 66.0,209.0 65.5,209.6 65.9,210.2 65.2,210.8 65.9,211.4 65.4,212.0 66.0,212.6 66.2,213.2 66.4,213.8 65.0,214.4 65.4,215.0 65.6,215.6 65.8,216.2 65.1,216.8 64.8,217.4 65.2,218.0 64.0,218.6 65.1,219.2 64.6,219.8 64.5,220.4 65.3,221.0 64.3,221.6 64.5,222.2 65.6,222.8 65.6,223.4 65.0,224.0 65.2,224.6 65.6,225.2 64.9,225.8 65.2,226.4 65.4,227.0 63.9,227.6 65.5,228.2 64.4,228.8 65.0,229.4 65.2,230.0 65.5,230.6 64.5,231.2 65.2,231.8 64.7,232.4 64.9,233.0 64.6,233.6 62.9,234.2 64.1,234.8 64.2,235.4 64.6,236.0 65.0,236.6 65.0,237.2 65.3,237.8 65.3,238.4 64.6,239.0 65.4,239.6 65.3,240.2 63.8,240.8 64.6,241.4 63.5,242.0 64.4,242.6 64.2,243.2 64.4,243.8 63.9,244.4 64.0,245.0 63.5,245.6 62.9,246.2 64.3,246.8 63.8,247.4 63.0,248.0 64.0,248.6 64.3,249.2 64.1,249.8 63.8,250.4 64.2,251.0 64.5,251.6 64.5,252.2 64.8,252.8 64.7,253.4 64.9,254.0 65.0,254.6 65.1,255.2 64.9,255.8 63.3,256.4 63.2,257.0 64.5,257.6 64.4,258.2 63.4,258.8 63.9,259.4 63.3,260.0 62.9,260.6 63.7,261.2 64.6,261.8 63.7,262.4 64.9,263.0 64.9,263.6 64.8,264.2 65.0,264.8 64.1,265.4 63.4,266.0 63.6,266.6 64.2,267.2 64.2,267.8 63.0,268.4 64.2,269.0 62.9,269.6 64.3,270.2 64.3,270.8 64.2,271.4 63.0,272.0 63.0,272.6 62.7,273.2 63.6,273.8 61.8,274.4 61.8,275.0 62.5,275.6 62.9,276.2 63.8,276.8 63.6,277.4 62.4,278.0 63.1,278.6 63.4,279.2 64.3,279.8 62.5,280.4 63.7,281.0 64.1,281.6 63.6,282.2 63.6,282.8 62.7,283.4 63.5,284.0 63.0,284.6 61.9,285.2 63.5,285.8 63.8,286.4 63.7,287.0 63.4,287.6 64.1,288.2 63.4,288.8 63.0,289.4 64.1,290.0 63.8,290.6 64.1,291.2 64.0,291.8 63.7,292.4 63.9,293.0 63.9,293.6 64.2,294.2 62.3,294.8 64.2,295.4 62.2,296.0 64.0,296.6 63.4,297.2 63.0,297.8 61.7,298.4 62.4,299.0 62.2,299.6 62.9,300.2 63.0,300.8 61.7,301.4 63.2,302.0 62.0,302.6 63.5,303.2 62.3,303.8 63.6,304.4 62.4,305.0 63.4,305.6 63.3,306.2 63.4,306.8 62.7,307.4 61.9,308.0 61.5,308.6 62.6,309.2 63.1,309.8 62.5,310.4 62.3,311.0 62.9,311.6 63.3,312.2 63.0,312.8 62.3,313.4 61.9,314.0 62.0,314.6 63.1,315.2 62.8,315.8 63.1,316.4 62.6,317.0 62.0,317.6 63.6,318.2 63.3,318.8 64.0,319.4 63.9,320.0 62.2,320.6 62.5,321.2 62.0,321.8 62.4,322.4 62.6,323.0 63.1,323.6 61.3,324.2 62.2,324.8 62.7,325.4 63.0,326.0 62.2,326.6 63.2,327.2 63.0,327.8 63.1,328.4 62.8,329.0 63.4,329.6 61.8,330.2 63.3,330.8 63.1,331.4 62.6,332.0 62.6,332.6 63.0,333.2 63.0,333.8 62.4,334.4 62.8,335.0 62.7,335.6 62.5,336.2 61.9,336.8 66.6,336.8 67.5,336.2 68.0,335.6 66.6,335.0 66.6,334.4 67.0,333.8 67.2,333.2 67.2,332.6 66.8,332.0 66.8,331.4 68.2,330.8 67.5,330.2 67.0,329.6 67.3,329.0 67.4,328.4 67.4,327.8 67.5,327.2 67.0,326.6 66.6,326.0 67.9,325.4 66.7,324.8 67.0,324.2 67.4,323.6 67.6,323.0 67.2,322.4 68.1,321.8 69.3,321.2 69.1,320.6 68.0,320.0 67.6,319.4 67.7,318.8 67.6,318.2 67.2,317.6 68.2,317.0 67.2,316.4 67.1,315.8 67.5,315.2 67.1,314.6 68.1,314.0 66.8,313.4 66.9,312.8 66.8,312.2 68.5,311.6 66.8,311.0 66.7,310.4 66.8,309.8 67.1,309.2 68.3,308.6 67.6,308.0 67.6,307.4 67.0,306.8 68.4,306.2 67.8,305.6 67.5,305.0 67.3,304.4 68.2,303.8 68.2,303.2 68.5,302.6 67.5,302.0 66.8,301.4 67.6,300.8 66.5,300.2 66.7,299.6 68.3,299.0 67.6,298.4 67.1,297.8 67.4,297.2 67.9,296.6 68.2,296.0 68.6,295.4 68.8,294.8 67.7,294.2 67.7,293.6 68.0,293.0 67.6,292.4 68.4,291.8 67.7,291.2 67.7,290.6 67.8,290.0 68.9,289.4 68.0,288.8 68.4,288.2 68.6,287.6 68.6,287.0 67.9,286.4 68.6,285.8 67.3,285.2 67.4,284.6 67.2,284.0 68.0,283.4 67.3,282.8 67.5,282.2 67.9,281.6 67.9,281.0 68.6,280.4 68.5,279.8 69.1,279.2 67.8,278.6 67.7,278.0 67.9,277.4 68.2,276.8 67.5,276.2 68.3,275.6 67.9,275.0 67.4,274.4 67.2,273.8 68.6,273.2 67.8,272.6 67.6,272.0 69.2,271.4 68.9,270.8 68.0,270.2 68.5,269.6 67.9,269.0 69.0,268.4 68.0,267.8 68.9,267.2 68.3,266.6 68.9,266.0 68.4,265.4 68.7,264.8 68.8,264.2 68.6,263.6 68.4,263.0 69.2,262.4 69.6,261.8 68.0,261.2 68.1,260.6 67.9,260.0 68.5,259.4 68.0,258.8 68.8,258.2 68.2,257.6 69.6,257.0 69.5,256.4 68.9,255.8 69.6,255.2 68.7,254.6 68.6,254.0 68.9,253.4 68.9,252.8 69.0,252.2 69.4,251.6 68.0,251.0 68.1,250.4 68.7,249.8 69.0,249.2 68.5,248.6 68.0,248.0 68.1,247.4 68.1,246.8 68.6,246.2 68.1,245.6 68.0,245.0 68.0,244.4 69.6,243.8 69.7,243.2 69.1,242.6 68.4,242.0 69.8,241.4 68.7,240.8 69.0,240.2 69.9,239.6 69.2,239.0 69.0,238.4 69.0,237.8 68.8,237.2 69.8,236.6 68.4,236.0 68.5,235.4 68.3,234.8 68.4,234.2 68.4,233.6 68.6,233.0 69.8,232.4 70.3,231.8 69.1,231.2 69.4,230.6 70.8,230.0 70.9,229.4 69.4,228.8 70.6,228.2 70.4,227.6 69.1,227.0 69.7,226.4 70.7,225.8 70.5,225.2 69.4,224.6 69.4,224.0 70.6,223.4 69.3,222.8 69.3,222.2 69.1,221.6 68.8,221.0 69.9,220.4 69.8,219.8 68.7,219.2 68.7,218.6 68.8,218.0 69.3,217.4 71.0,216.8 70.2,216.2 70.2,215.6 69.9,215.0 70.5,214.4 70.1,213.8 70.8,213.2 70.9,212.6 69.7,212.0 71.4,211.4 70.2,210.8 69.6,210.2 70.0,209.6 69.7,209.0 70.0,208.4 71.6,207.8 70.8,207.2 70.1,206.6 71.4,206.0 70.4,205.4 71.5,204.8 70.5,204.2 71.0,203.6 70.7,203.0 71.8,202.4 71.0,201.8 70.8,201.2 71.2,200.6 72.4,200.0 71.5,199.4 71.1,198.8 71.3,198.2 72.5,197.6 71.6,197.0 70.7,196.4 70.1,195.8 71.4,195.2 69.8,194.6 70.9,194.0 69.9,193.4 69.8,192.8 70.5,192.2 70.3,191.6 70.6,191.0 71.7,190.4 70.7,189.8 71.1,189.2 70.6,188.6 70.8,188.0 70.6,187.4 71.6,186.8 70.4,186.2 71.7,185.6 70.7,185.0 70.1,184.4 70.2,183.8 71.1,183.2 70.7,182.6 71.3,182.0 70.8,181.4 71.5,180.8 71.0,180.2 70.4,179.6 71.1,179.0 70.2,178.4 71.2,177.8 70.6,177.2 70.9,176.6 70.7,176.0 72.0,175.4 72.8,174.8 71.6,174.2 71.3,173.6 71.3,173.0 71.6,172.4 71.3,171.8 70.7,171.2 70.8,170.6 70.7,170.0 71.0,169.4 70.8,168.8 70.7,168.2 70.7,167.6 70.3,167.0 70.6,166.4 70.5,165.8 70.5,165.2 70.8,164.6 70.7,164.0 70.7,163.4 70.6,162.8 69.8,162.2 69.8,161.6 69.4,161.0 70.7,160.4 69.2,159.8 69.1,159.2 68.9,158.6 70.2,158.0 69.3,157.4 69.4,156.8 68.1,156.2 68.4,155.6 67.8,155.0 67.9,154.4 68.0,153.8 69.3,153.2 68.3,152.6 69.3,152.0 69.7,151.4 70.2,150.8 68.9,150.2 69.0,149.6 70.5,149.0 69.5,148.4 69.2,147.8 70.4,147.2 68.7,146.6 69.1,146.0 69.8,145.4 68.4,144.8 68.3,144.2 68.8,143.6 68.4,143.0 69.3,142.4 68.4,141.8 68.9,141.2 69.1,140.6 68.5,140.0 68.5,139.4 69.7,138.8 68.5,138.2 68.6,137.6 68.7,137.0 69.3,136.4 69.4,135.8 70.5,135.2 70.4,134.6 70.4,134.0 70.9,133.4 70.6,132.8 70.1,132.2 70.0,131.6 70.1,131.0 69.4,130.4 70.5,129.8 69.3,129.2 69.6,128.6 69.3,128.0 70.8,127.4 69.8,126.8 69.8,126.2 70.3,125.6 70.2,125.0 70.9,124.4 71.3,123.8 70.4,123.2 70.8,122.6 70.3,122.0 70.3,121.4 71.3,120.8 70.3,120.2 70.3,119.6 70.6,119.0 70.9,118.4 70.4,117.8 70.6,117.2 70.4,116.6 70.5,116.0 70.3,115.4 70.3,114.8 71.6,114.2 71.8,113.6 70.1,113.0 70.2,112.4 70.2,111.8 71.7,111.2 72.1,110.6 72.0,110.0 71.1,109.4 71.0,108.8 70.9,108.2 71.0,107.6 71.9,107.0 70.9,106.4 70.2,105.8 70.0,105.2 70.2,104.6 69.9,104.0 70.3,103.4 71.2,102.8 70.0,102.2 71.2,101.6 71.4,101.0 71.5,100.4 70.1,99.8 70.0,99.2 70.1,98.6 70.1,98.0 70.0,97.4 70.2,96.8 71.1,96.2 70.3,95.6 71.8,95.0 70.4,94.4 72.2,93.8 71.4,93.2 70.6,92.6 72.0,92.0 70.7,91.4 70.4,90.8 72.0,90.2 70.1,89.6 70.2,89.0 71.6,88.4 70.5,87.8 71.7,87.2 70.4,86.6 70.4,86.0 72.2,85.4 72.1,84.8 70.9,84.2 71.0,83.6 71.0,83.0 72.6,82.4 71.9,81.8 71.0,81.2 70.6,80.6 70.8,80.0 72.0,79.4 70.2,78.8 70.4,78.2 70.2,77.6 70.9,77.0"/>
<line x1="64.2" y1="85.5" x2="68.6" y2="85.5" stroke="#000" stroke-width="1"/>
<line x1="60.7" y1="95.5" x2="68.5" y2="95.5" stroke="#000" stroke-width="1"/>
<line x1="47.7" y1="99.5" x2="68.5" y2="99.5" stroke="#9a9a9a" stroke-width="1"/>
<line x1="58.7" y1="99.5" x2="68.5" y2="99.5" stroke="#000" stroke-width="1"/>
<line x1="36.2" y1="111.5" x2="68.5" y2="111.5" stroke="#9a9a9a" stroke-width="1"/>
<line x1="60.0" y1="111.5" x2="68.5" y2="111.5" stroke="#000" stroke-width="1"/>
<line x1="61.4" y1="113.5" x2="68.5" y2="113.5" stroke="#000" stroke-width="1"/>
<line x1="17.7" y1="116.5" x2="68.4" y2="116.5" stroke="#9a9a9a" stroke-width="1"/>
<line x1="57.3" y1="116.5" x2="68.4" y2="116.5" stroke="#000" stroke-width="1"/>
<line x1="3.0" y1="136.5" x2="67.1" y2="136.5" stroke="#9a9a9a" stroke-width="1"/>
<line x1="10.8" y1="136.5" x2="57.0" y2="136.5" stroke="#000" stroke-width="1"/>
<line x1="57.0" y1="136.5" x2="67.1" y2="136.5" stroke="#9a9a9a" stroke-width="1"/>
<line x1="61.3" y1="137.5" x2="67.0" y2="137.5" stroke="#000" stroke-width="1"/>
<line x1="19.0" y1="141.5" x2="66.6" y2="141.5" stroke="#9a9a9a" stroke-width="1"/>
<line x1="38.0" y1="141.5" x2="66.6" y2="141.5" stroke="#000" stroke-width="1"/>
<line x1="56.0" y1="142.5" x2="66.6" y2="142.5" stroke="#000" stroke-width="1"/>
<line x1="7.5" y1="144.5" x2="66.6" y2="144.5" stroke="#9a9a9a" stroke-width="1"/>
<line x1="19.0" y1="144.5" x2="66.6" y2="144.5" stroke="#000" stroke-width="1"/>
<line x1="29.0" y1="144.5" x2="66.6" y2="144.5" stroke="#000" stroke-width="1"/>
<line x1="44.7" y1="147.5" x2="66.6" y2="147.5" stroke="#9a9a9a" stroke-width="1"/>
<line x1="60.0" y1="147.5" x2="66.6" y2="147.5" stroke="#000" stroke-width="1"/>
<line x1="24.8" y1="149.5" x2="66.6" y2="149.5" stroke="#9a9a9a" stroke-width="1"/>
<line x1="49.7" y1="149.5" x2="66.6" y2="149.5" stroke="#000" stroke-width="1"/>
<line x1="61.3" y1="152.5" x2="66.6" y2="152.5" stroke="#000" stroke-width="1"/>
<line x1="3.0" y1="156.5" x2="66.7" y2="156.5" stroke="#9a9a9a" stroke-width="1"/>
<line x1="40.6" y1="156.5" x2="66.7" y2="156.5" stroke="#000" stroke-width="1"/>
<line x1="62.0" y1="168.5" x2="68.7" y2="168.5" stroke="#000" stroke-width="1"/>
<line x1="54.6" y1="173.5" x2="68.7" y2="173.5" stroke="#9a9a9a" stroke-width="1"/>
<line x1="62.0" y1="173.5" x2="68.7" y2="173.5" stroke="#000" stroke-width="1"/>
<line x1="37.3" y1="175.5" x2="68.7" y2="175.5" stroke="#000" stroke-width="1"/>
<line x1="26.5" y1="178.5" x2="68.7" y2="178.5" stroke="#9a9a9a" stroke-width="1"/>
<line x1="48.0" y1="178.5" x2="68.7" y2="178.5" stroke="#000" stroke-width="1"/>
<line x1="60.4" y1="185.5" x2="68.6" y2="185.5" stroke="#000" stroke-width="1"/>
<line x1="60.8" y1="218.5" x2="67.6" y2="218.5" stroke="#9a9a9a" stroke-width="1"/>
<line x1="62.0" y1="218.5" x2="67.6" y2="218.5" stroke="#000" stroke-width="1"/>
<line x1="58.5" y1="269.5" x2="66.1" y2="269.5" stroke="#9a9a9a" stroke-width="1"/>
<line x1="62.0" y1="269.5" x2="66.1" y2="269.5" stroke="#000" stroke-width="1"/>
<line x1="50.5" y1="276.5" x2="66.0" y2="276.5" stroke="#000" stroke-width="1"/>
<line x1="49.9" y1="328.5" x2="65.1" y2="328.5" stroke="#9a9a9a" stroke-width="1"/>
<line x1="58.0" y1="328.5" x2="65.1" y2="328.5" stroke="#000" stroke-width="1"/>
<line x1="41.0" y1="334.5" x2="65.0" y2="334.5" stroke="#9a9a9a" stroke-width="1"/>
<line x1="55.0" y1="334.5" x2="65.0" y2="334.5" stroke="#000" stroke-width="1"/>
<line x1="47.9" y1="211.9" x2="67" y2="211.9" stroke="#9a9a9a" stroke-width="1.6"/>
<text x="100.0" y="35.9" font-size="12.5" fill="#000">H<tspan font-size="9.4" dy="3.2">4</tspan></text>
<text x="143.6" y="30.9" font-size="12.5" fill="#000">H<tspan font-size="9.4" dy="3.4">4</tspan><tspan dy="-3.4" dx="0.3" font-size="13.8">&#39;</tspan></text>
<text x="20.8" y="213.0" font-size="12.5" fill="#000">C<tspan font-size="9.4" dy="2.3">3</tspan></text>
<text x="38.8" y="226.9" font-size="12.5" fill="#000">C<tspan font-size="9.4" dy="2.3">3</tspan><tspan dy="-2.3" dx="0.3" font-size="13.8">&#39;</tspan></text>
<text x="15.8" y="282.2" font-size="12.5" fill="#000">C<tspan font-size="9.4" dy="2.3">1</tspan></text>
<text x="32.4" y="279.2" font-size="12.5" fill="#000">C<tspan font-size="9.4" dy="2.3">1</tspan><tspan dy="-2.3" dx="0.3" font-size="13.8">&#39;</tspan></text>
<text x="29.5" y="329.8" font-size="11.8" text-anchor="start" fill="#000" >C2&#39;</text>
<text x="20.3" y="340.3" font-size="11.8" text-anchor="start" fill="#000" >C2</text>
<ellipse cx="109.50" cy="137.00" rx="9.20" ry="5.30" fill="none" stroke="#000" stroke-width="0.5"/>
<ellipse cx="109.37" cy="136.97" rx="8.46" ry="4.88" fill="none" stroke="#000" stroke-width="0.5"/>
<ellipse cx="109.23" cy="136.93" rx="7.73" ry="4.45" fill="none" stroke="#000" stroke-width="0.5"/>
<ellipse cx="109.10" cy="136.90" rx="6.99" ry="4.03" fill="none" stroke="#000" stroke-width="0.5"/>
<ellipse cx="108.97" cy="136.87" rx="6.26" ry="3.60" fill="none" stroke="#000" stroke-width="0.5"/>
<ellipse cx="108.83" cy="136.83" rx="5.52" ry="3.18" fill="none" stroke="#000" stroke-width="0.5"/>
<ellipse cx="108.30" cy="136.70" rx="2.58" ry="1.48" fill="none" stroke="#000" stroke-width="0.5"/>
<path d="M97.10,150.00 C97.18,149.08 98.68,147.00 100.00,146.00 C101.32,145.00 103.00,144.37 105.00,144.00 C107.00,143.63 109.83,143.63 112.00,143.80 C114.17,143.97 116.50,144.22 118.00,145.00 C119.50,145.78 120.83,147.37 121.00,148.50 C121.17,149.63 120.50,151.05 119.00,151.80 C117.50,152.55 114.50,152.87 112.00,153.00 C109.50,153.13 106.08,152.85 104.00,152.60 C101.92,152.35 100.65,151.93 99.50,151.50 C98.35,151.07 97.02,150.92 97.10,150.00Z" fill="none" stroke="#000" stroke-width="0.75"/>
<ellipse cx="109.20" cy="148.50" rx="10.20" ry="4.10" fill="none" stroke="#000" stroke-width="0.5"/>
<ellipse cx="109.13" cy="148.50" rx="9.18" ry="3.69" fill="none" stroke="#000" stroke-width="0.5"/>
<ellipse cx="109.06" cy="148.50" rx="8.16" ry="3.28" fill="none" stroke="#000" stroke-width="0.5"/>
<ellipse cx="108.99" cy="148.50" rx="7.14" ry="2.87" fill="none" stroke="#000" stroke-width="0.5"/>
<ellipse cx="108.92" cy="148.50" rx="6.12" ry="2.46" fill="none" stroke="#000" stroke-width="0.5"/>
<ellipse cx="108.70" cy="148.50" rx="2.86" ry="1.15" fill="none" stroke="#000" stroke-width="0.5"/>
<ellipse cx="109.00" cy="156.80" rx="7.90" ry="2.80" fill="none" stroke="#000" stroke-width="0.6"/>
<ellipse cx="109.00" cy="156.80" rx="6.95" ry="2.46" fill="none" stroke="#000" stroke-width="0.6"/>
<ellipse cx="109.00" cy="156.80" rx="5.69" ry="2.02" fill="none" stroke="#000" stroke-width="0.6"/>
<ellipse cx="109.00" cy="156.80" rx="2.77" ry="0.98" fill="none" stroke="#000" stroke-width="0.6"/>
<ellipse cx="109.50" cy="176.00" rx="9.50" ry="5.00" fill="none" stroke="#000" stroke-width="0.6"/>
<ellipse cx="109.46" cy="176.00" rx="8.55" ry="4.50" fill="none" stroke="#000" stroke-width="0.6"/>
<ellipse cx="109.42" cy="176.00" rx="7.60" ry="4.00" fill="none" stroke="#000" stroke-width="0.6"/>
<ellipse cx="109.38" cy="176.00" rx="6.65" ry="3.50" fill="none" stroke="#000" stroke-width="0.6"/>
<ellipse cx="109.33" cy="176.00" rx="5.70" ry="3.00" fill="none" stroke="#000" stroke-width="0.6"/>
<ellipse cx="109.20" cy="176.00" rx="2.66" ry="1.40" fill="none" stroke="#000" stroke-width="0.6"/>
<ellipse cx="108.50" cy="168.20" rx="2.00" ry="1.10" fill="none" stroke="#000" stroke-width="0.8"/>
<ellipse cx="160.00" cy="136.90" rx="6.80" ry="5.30" fill="none" stroke="#000" stroke-width="0.6"/>
<ellipse cx="159.48" cy="136.68" rx="5.71" ry="4.45" fill="none" stroke="#000" stroke-width="0.6"/>
<ellipse cx="158.89" cy="136.43" rx="4.49" ry="3.50" fill="none" stroke="#000" stroke-width="0.6"/>
<ellipse cx="158.10" cy="136.10" rx="2.86" ry="2.23" fill="none" stroke="#000" stroke-width="0.6"/>
<path d="M163.50,132.50 C163.92,132.92 165.38,133.92 166.00,135.00 C166.62,136.08 166.87,137.67 167.20,139.00 C167.53,140.33 167.78,141.75 168.00,143.00 C168.22,144.25 168.67,145.50 168.50,146.50 C168.33,147.50 167.25,148.58 167.00,149.00" fill="none" stroke="#000" stroke-width="0.6"/>
<path d="M147.00,151.20 C146.83,150.28 147.67,148.53 148.50,147.50 C149.33,146.47 150.58,145.72 152.00,145.00 C153.42,144.28 155.17,143.57 157.00,143.20 C158.83,142.83 161.17,142.67 163.00,142.80 C164.83,142.93 166.88,143.22 168.00,144.00 C169.12,144.78 169.62,146.25 169.70,147.50 C169.78,148.75 169.62,150.47 168.50,151.50 C167.38,152.53 165.25,153.32 163.00,153.70 C160.75,154.08 157.25,153.92 155.00,153.80 C152.75,153.68 150.83,153.43 149.50,153.00 C148.17,152.57 147.17,152.12 147.00,151.20Z" fill="none" stroke="#000" stroke-width="0.6"/>
<ellipse cx="160.00" cy="148.20" rx="8.80" ry="4.90" fill="none" stroke="#000" stroke-width="0.6"/>
<ellipse cx="159.79" cy="147.90" rx="7.04" ry="3.92" fill="none" stroke="#000" stroke-width="0.6"/>
<ellipse cx="159.58" cy="147.60" rx="5.28" ry="2.94" fill="none" stroke="#000" stroke-width="0.6"/>
<ellipse cx="159.30" cy="147.20" rx="2.90" ry="1.62" fill="none" stroke="#000" stroke-width="0.6"/>
<ellipse cx="161.00" cy="156.40" rx="6.40" ry="3.60" fill="none" stroke="#000" stroke-width="0.6"/>
<ellipse cx="160.46" cy="156.40" rx="4.61" ry="2.59" fill="none" stroke="#000" stroke-width="0.6"/>
<ellipse cx="159.80" cy="156.40" rx="2.43" ry="1.37" fill="none" stroke="#000" stroke-width="0.6"/>
<path d="M134.40,133.00 C134.68,132.50 135.82,131.92 136.50,132.00 C137.18,132.08 137.95,132.75 138.50,133.50 C139.05,134.25 139.80,135.83 139.80,136.50 C139.80,137.17 139.05,137.62 138.50,137.50 C137.95,137.38 137.12,136.22 136.50,135.80 C135.88,135.38 135.15,135.47 134.80,135.00 C134.45,134.53 134.12,133.50 134.40,133.00Z" fill="none" stroke="#000" stroke-width="0.7"/>
<ellipse cx="142.80" cy="156.00" rx="4.00" ry="2.20" fill="none" stroke="#000" stroke-width="0.7"/>
<ellipse cx="142.60" cy="163.90" rx="2.00" ry="1.30" fill="none" stroke="#000" stroke-width="0.7"/>
<ellipse cx="127.00" cy="177.30" rx="1.50" ry="2.00" fill="none" stroke="#000" stroke-width="0.7"/>
<circle cx="171.6" cy="134.6" r="0.9" fill="#333"/>
<path d="M171.90,139.80 C172.83,138.98 175.32,138.35 177.00,137.80 C178.68,137.25 180.55,137.07 182.00,136.50 C183.45,135.93 184.70,135.07 185.70,134.40 C186.70,133.73 187.18,132.92 188.00,132.50 C188.82,132.08 189.68,131.93 190.60,131.90 C191.52,131.87 192.68,132.05 193.50,132.30 C194.32,132.55 194.85,132.57 195.50,133.40 C196.15,134.23 196.58,136.48 197.40,137.30 C198.22,138.12 199.08,138.38 200.40,138.30 C201.72,138.22 203.50,137.02 205.30,136.80 C207.10,136.58 209.58,136.70 211.20,137.00 C212.82,137.30 214.02,137.97 215.00,138.60 C215.98,139.23 216.60,139.78 217.10,140.80 C217.60,141.82 218.17,143.48 218.00,144.70 C217.83,145.92 217.23,147.37 216.10,148.10 C214.97,148.83 212.67,149.10 211.20,149.10 C209.73,149.10 208.45,148.75 207.30,148.10 C206.15,147.45 205.45,146.10 204.30,145.20 C203.15,144.30 201.55,142.95 200.40,142.70 C199.25,142.45 198.38,143.20 197.40,143.70 C196.42,144.20 195.63,145.28 194.50,145.70 C193.37,146.12 191.75,146.28 190.60,146.20 C189.45,146.12 188.58,145.53 187.60,145.20 C186.62,144.87 185.83,144.28 184.70,144.20 C183.57,144.12 181.95,144.37 180.80,144.70 C179.65,145.03 178.95,146.12 177.80,146.20 C176.65,146.28 174.97,145.78 173.90,145.20 C172.83,144.62 171.73,143.60 171.40,142.70 C171.07,141.80 170.97,140.62 171.90,139.80Z" fill="none" stroke="#000" stroke-width="0.7"/>
<path d="M187.10,135.90 C187.85,135.08 189.78,134.75 191.10,134.90 C192.42,135.05 194.10,135.82 195.00,136.80 C195.90,137.78 196.58,139.57 196.50,140.80 C196.42,142.03 195.48,143.47 194.50,144.20 C193.52,144.93 191.75,145.37 190.60,145.20 C189.45,145.03 188.27,144.10 187.60,143.20 C186.93,142.30 186.68,141.02 186.60,139.80 C186.52,138.58 186.35,136.72 187.10,135.90Z" fill="none" stroke="#000" stroke-width="0.7"/>
<ellipse cx="191.60" cy="140.60" rx="1.60" ry="1.40" fill="none" stroke="#000" stroke-width="0.8"/>
<ellipse cx="181.70" cy="140.80" rx="1.40" ry="1.10" fill="none" stroke="#000" stroke-width="0.9"/>
<ellipse cx="211.20" cy="143.00" rx="6.30" ry="5.40" fill="none" stroke="#000" stroke-width="0.6"/>
<ellipse cx="211.20" cy="143.00" rx="5.30" ry="4.60" fill="none" stroke="#000" stroke-width="0.6"/>
<ellipse cx="210.90" cy="143.00" rx="3.20" ry="2.60" fill="none" stroke="#000" stroke-width="0.7"/>
<path d="M220.90,142.00 C220.80,141.62 220.90,141.25 221.20,140.80 C221.50,140.35 221.77,139.88 222.70,139.30 C223.63,138.72 225.78,138.03 226.80,137.30 C227.82,136.57 228.27,135.63 228.80,134.90 C229.33,134.17 229.47,133.33 230.00,132.90 C230.53,132.47 231.32,132.25 232.00,132.30 C232.68,132.35 233.42,132.85 234.10,133.20 C234.78,133.55 235.27,134.17 236.10,134.40 C236.93,134.63 238.27,134.37 239.10,134.60 C239.93,134.83 240.43,135.83 241.10,135.80 C241.77,135.77 242.85,134.20 243.10,134.40 C243.35,134.60 243.08,136.32 242.60,137.00 C242.12,137.68 241.18,137.97 240.20,138.50 C239.22,139.03 237.77,139.57 236.70,140.20 C235.63,140.83 234.97,141.87 233.80,142.30 C232.63,142.73 231.17,142.57 229.70,142.80 C228.23,143.03 226.32,143.65 225.00,143.70 C223.68,143.75 222.48,143.38 221.80,143.10 C221.12,142.82 221.00,142.38 220.90,142.00Z" fill="none" stroke="#000" stroke-width="0.7"/>
<path d="M241.60,141.10 C241.72,139.55 242.17,137.40 243.00,136.10 C243.83,134.80 245.47,134.13 246.60,133.30 C247.73,132.47 249.10,131.93 249.80,131.10 C250.50,130.27 250.38,128.88 250.80,128.30 C251.22,127.72 251.70,127.48 252.30,127.60 C252.90,127.72 253.70,128.42 254.40,129.00 C255.10,129.58 255.67,130.03 256.50,131.10 C257.33,132.17 258.45,134.20 259.40,135.40 C260.35,136.60 261.55,137.35 262.20,138.30 C262.85,139.25 263.18,140.03 263.30,141.10 C263.42,142.17 263.32,143.75 262.90,144.70 C262.48,145.65 261.98,146.15 260.80,146.80 C259.62,147.45 257.58,148.30 255.80,148.60 C254.02,148.90 251.88,148.78 250.10,148.60 C248.32,148.42 246.40,148.03 245.10,147.50 C243.80,146.97 242.88,146.47 242.30,145.40 C241.72,144.33 241.48,142.65 241.60,141.10Z" fill="none" stroke="#000" stroke-width="0.7"/>
<path d="M243.20,141.50 C243.35,140.38 243.78,138.58 244.50,137.50 C245.22,136.42 246.42,135.72 247.50,135.00 C248.58,134.28 249.83,133.45 251.00,133.20 C252.17,132.95 253.33,132.95 254.50,133.50 C255.67,134.05 256.92,135.50 258.00,136.50 C259.08,137.50 260.37,138.50 261.00,139.50 C261.63,140.50 261.88,141.50 261.80,142.50 C261.72,143.50 261.55,144.68 260.50,145.50 C259.45,146.32 257.25,147.08 255.50,147.40 C253.75,147.72 251.67,147.58 250.00,147.40 C248.33,147.22 246.57,146.83 245.50,146.30 C244.43,145.77 243.98,145.00 243.60,144.20 C243.22,143.40 243.05,142.62 243.20,141.50Z" fill="none" stroke="#000" stroke-width="0.7"/>
<ellipse cx="251.60" cy="136.30" rx="6.00" ry="2.40" fill="none" stroke="#000" stroke-width="0.7"/>
<ellipse cx="251.00" cy="140.00" rx="5.80" ry="1.00" fill="none" stroke="#000" stroke-width="0.9"/>
<ellipse cx="250.80" cy="140.40" rx="4.80" ry="0.70" fill="none" stroke="#000" stroke-width="0.9"/>
<ellipse cx="251.20" cy="144.60" rx="7.40" ry="3.40" fill="none" stroke="#000" stroke-width="0.7"/>
<ellipse cx="251.20" cy="144.60" rx="5.60" ry="2.70" fill="none" stroke="#000" stroke-width="0.7"/>
<ellipse cx="251.20" cy="144.60" rx="3.90" ry="2.10" fill="none" stroke="#000" stroke-width="0.7"/>
<path d="M266.40,144.50 C266.48,143.45 266.82,142.20 267.50,141.20 C268.18,140.20 269.75,139.45 270.50,138.50 C271.25,137.55 271.08,136.25 272.00,135.50 C272.92,134.75 274.33,134.27 276.00,134.00 C277.67,133.73 280.25,133.85 282.00,133.90 C283.75,133.95 285.50,134.48 286.50,134.30 C287.50,134.12 287.25,132.98 288.00,132.80 C288.75,132.62 290.37,132.58 291.00,133.20 C291.63,133.82 292.00,135.45 291.80,136.50 C291.60,137.55 290.05,138.17 289.80,139.50 C289.55,140.83 290.52,142.92 290.30,144.50 C290.08,146.08 289.72,147.82 288.50,149.00 C287.28,150.18 285.25,151.22 283.00,151.60 C280.75,151.98 277.08,151.77 275.00,151.30 C272.92,150.83 271.83,149.43 270.50,148.80 C269.17,148.17 267.68,148.22 267.00,147.50 C266.32,146.78 266.32,145.55 266.40,144.50Z" fill="none" stroke="#000" stroke-width="0.6"/>
<ellipse cx="279.00" cy="142.60" rx="9.00" ry="7.60" fill="none" stroke="#000" stroke-width="0.55"/>
<ellipse cx="279.00" cy="142.60" rx="8.00" ry="6.60" fill="none" stroke="#000" stroke-width="0.55"/>
<ellipse cx="278.60" cy="139.30" rx="5.50" ry="2.70" fill="none" stroke="#000" stroke-width="0.6"/>
<ellipse cx="278.60" cy="139.30" rx="3.00" ry="1.30" fill="none" stroke="#000" stroke-width="0.6"/>
<ellipse cx="278.40" cy="139.30" rx="1.50" ry="0.60" fill="none" stroke="#000" stroke-width="0.9"/>
<ellipse cx="279.20" cy="145.60" rx="6.80" ry="3.30" fill="none" stroke="#000" stroke-width="0.6"/>
<ellipse cx="279.20" cy="145.60" rx="4.60" ry="2.20" fill="none" stroke="#000" stroke-width="0.6"/>
<ellipse cx="268.20" cy="144.80" rx="1.60" ry="2.00" fill="none" stroke="#000" stroke-width="0.6"/>
<ellipse cx="289.60" cy="135.80" rx="2.00" ry="2.20" fill="none" stroke="#000" stroke-width="0.6"/>
<ellipse cx="279.00" cy="151.80" rx="1.50" ry="0.70" fill="none" stroke="#000" stroke-width="0.6"/>
<ellipse cx="190.20" cy="156.60" rx="6.80" ry="4.60" fill="none" stroke="#000" stroke-width="0.7"/>
<ellipse cx="190.20" cy="156.60" rx="5.85" ry="3.96" fill="none" stroke="#000" stroke-width="0.7"/>
<ellipse cx="190.20" cy="156.60" rx="1.36" ry="0.92" fill="none" stroke="#000" stroke-width="0.7"/>
<ellipse cx="205.70" cy="156.20" rx="7.50" ry="4.20" fill="none" stroke="#000" stroke-width="0.7"/>
<ellipse cx="205.02" cy="156.20" rx="6.38" ry="3.57" fill="none" stroke="#000" stroke-width="0.7"/>
<ellipse cx="203.20" cy="156.20" rx="3.38" ry="1.89" fill="none" stroke="#000" stroke-width="0.7"/>
<path d="M191.50,147.60 C191.92,147.13 193.17,146.62 194.50,146.40 C195.83,146.18 198.28,145.98 199.50,146.30 C200.72,146.62 201.15,147.45 201.80,148.30 C202.45,149.15 203.87,150.88 203.40,151.40 C202.93,151.92 200.40,151.57 199.00,151.40 C197.60,151.23 196.17,150.77 195.00,150.40 C193.83,150.03 192.58,149.67 192.00,149.20 C191.42,148.73 191.08,148.07 191.50,147.60Z" fill="none" stroke="#000" stroke-width="0.7"/>
<ellipse cx="229.90" cy="156.20" rx="11.90" ry="5.00" fill="none" stroke="#000" stroke-width="0.7"/>
<ellipse cx="229.81" cy="156.38" rx="10.47" ry="4.40" fill="none" stroke="#000" stroke-width="0.7"/>
<ellipse cx="229.50" cy="157.00" rx="5.59" ry="2.35" fill="none" stroke="#000" stroke-width="0.7"/>
<ellipse cx="253.00" cy="155.80" rx="9.70" ry="5.40" fill="none" stroke="#000" stroke-width="0.7"/>
<ellipse cx="252.31" cy="155.80" rx="7.95" ry="4.43" fill="none" stroke="#000" stroke-width="0.7"/>
<ellipse cx="250.30" cy="155.80" rx="2.91" ry="1.62" fill="none" stroke="#000" stroke-width="0.7"/>
<circle cx="233.7" cy="163.4" r="0.8" fill="#333"/>
<path d="M137.30,176.70 C137.25,175.58 137.50,174.52 138.70,173.80 C139.90,173.08 142.55,172.77 144.50,172.40 C146.45,172.03 148.93,172.02 150.40,171.60 C151.87,171.18 151.85,170.43 153.30,169.90 C154.75,169.37 157.17,168.65 159.10,168.40 C161.03,168.15 163.33,168.10 164.90,168.40 C166.47,168.70 167.65,169.42 168.50,170.20 C169.35,170.98 169.15,172.42 170.00,173.10 C170.85,173.78 172.27,174.30 173.60,174.30 C174.93,174.30 176.53,174.03 178.00,173.10 C179.47,172.17 180.70,169.72 182.40,168.70 C184.10,167.68 186.02,167.12 188.20,167.00 C190.38,166.88 193.45,167.47 195.50,168.00 C197.55,168.53 199.42,169.12 200.50,170.20 C201.58,171.28 201.87,173.05 202.00,174.50 C202.13,175.95 202.15,177.68 201.30,178.90 C200.45,180.12 198.60,181.07 196.90,181.80 C195.20,182.53 193.03,183.18 191.10,183.30 C189.17,183.42 187.00,182.75 185.30,182.50 C183.60,182.25 182.60,181.80 180.90,181.80 C179.20,181.80 176.80,182.50 175.10,182.50 C173.40,182.50 171.92,182.40 170.70,181.80 C169.48,181.20 168.77,179.62 167.80,178.90 C166.83,178.18 166.35,177.78 164.90,177.50 C163.45,177.22 160.75,177.12 159.10,177.20 C157.45,177.28 156.52,177.37 155.00,178.00 C153.48,178.63 151.83,180.33 150.00,181.00 C148.17,181.67 145.83,182.08 144.00,182.00 C142.17,181.92 140.12,181.38 139.00,180.50 C137.88,179.62 137.35,177.82 137.30,176.70Z" fill="none" stroke="#000" stroke-width="0.7"/>
<path d="M140.50,176.80 C140.58,176.13 140.92,175.27 142.00,174.80 C143.08,174.33 145.33,174.22 147.00,174.00 C148.67,173.78 150.67,173.83 152.00,173.50 C153.33,173.17 153.67,172.45 155.00,172.00 C156.33,171.55 158.42,171.00 160.00,170.80 C161.58,170.60 163.33,170.52 164.50,170.80 C165.67,171.08 166.33,171.80 167.00,172.50 C167.67,173.20 167.42,174.33 168.50,175.00 C169.58,175.67 171.75,176.47 173.50,176.50 C175.25,176.53 177.42,176.08 179.00,175.20 C180.58,174.32 181.42,172.10 183.00,171.20 C184.58,170.30 186.50,169.87 188.50,169.80 C190.50,169.73 193.33,170.27 195.00,170.80 C196.67,171.33 197.78,172.05 198.50,173.00 C199.22,173.95 199.55,175.37 199.30,176.50 C199.05,177.63 198.38,179.02 197.00,179.80 C195.62,180.58 193.17,181.12 191.00,181.20 C188.83,181.28 186.50,180.47 184.00,180.30 C181.50,180.13 178.33,180.33 176.00,180.20 C173.67,180.07 171.67,180.20 170.00,179.50 C168.33,178.80 167.50,176.75 166.00,176.00 C164.50,175.25 162.83,175.03 161.00,175.00 C159.17,174.97 156.75,175.22 155.00,175.80 C153.25,176.38 152.17,177.83 150.50,178.50 C148.83,179.17 146.50,179.75 145.00,179.80 C143.50,179.85 142.25,179.30 141.50,178.80 C140.75,178.30 140.42,177.47 140.50,176.80Z" fill="none" stroke="#000" stroke-width="0.7"/>
<ellipse cx="145.30" cy="177.70" rx="2.60" ry="1.30" fill="none" stroke="#000" stroke-width="0.7"/>
<ellipse cx="186.30" cy="176.30" rx="5.60" ry="3.70" fill="none" stroke="#000" stroke-width="0.65"/>
<ellipse cx="186.10" cy="176.30" rx="3.40" ry="2.10" fill="none" stroke="#000" stroke-width="0.8"/>
<path d="M191.50,169.80 C192.25,170.08 194.88,170.55 196.00,171.50 C197.12,172.45 198.12,174.20 198.20,175.50 C198.28,176.80 197.53,178.47 196.50,179.30 C195.47,180.13 192.75,180.30 192.00,180.50" fill="none" stroke="#000" stroke-width="0.6"/>
<path d="M183.50,169.50 C184.42,169.30 187.17,168.33 189.00,168.30 C190.83,168.27 193.58,169.13 194.50,169.30" fill="none" stroke="#000" stroke-width="0.6"/>
<ellipse cx="186.50" cy="182.80" rx="3.20" ry="0.90" fill="none" stroke="#000" stroke-width="0.7"/>
<ellipse cx="213.40" cy="173.90" rx="2.50" ry="2.60" fill="none" stroke="#000" stroke-width="0.7"/>
<ellipse cx="227.10" cy="176.50" rx="6.70" ry="4.20" fill="none" stroke="#000" stroke-width="0.7"/>
<ellipse cx="227.15" cy="176.50" rx="5.90" ry="3.70" fill="none" stroke="#000" stroke-width="0.7"/>
<ellipse cx="227.30" cy="176.50" rx="3.69" ry="2.31" fill="none" stroke="#000" stroke-width="0.7"/>
<ellipse cx="251.70" cy="178.10" rx="10.40" ry="5.20" fill="none" stroke="#000" stroke-width="0.5"/>
<ellipse cx="251.57" cy="178.13" rx="9.36" ry="4.68" fill="none" stroke="#000" stroke-width="0.5"/>
<ellipse cx="251.44" cy="178.15" rx="8.32" ry="4.16" fill="none" stroke="#000" stroke-width="0.5"/>
<ellipse cx="251.32" cy="178.18" rx="7.28" ry="3.64" fill="none" stroke="#000" stroke-width="0.5"/>
<ellipse cx="250.99" cy="178.24" rx="4.68" ry="2.34" fill="none" stroke="#000" stroke-width="0.5"/>
<ellipse cx="250.70" cy="178.30" rx="2.29" ry="1.14" fill="none" stroke="#000" stroke-width="0.5"/>
<path d="M268.10,175.00 C268.10,173.50 268.85,171.63 270.00,170.50 C271.15,169.37 273.17,168.53 275.00,168.20 C276.83,167.87 279.08,168.03 281.00,168.50 C282.92,168.97 285.38,169.92 286.50,171.00 C287.62,172.08 287.95,173.83 287.70,175.00 C287.45,176.17 285.70,177.77 285.00,178.00 C284.30,178.23 284.00,176.15 283.50,176.40 C283.00,176.65 283.25,178.82 282.00,179.50 C280.75,180.18 278.00,180.50 276.00,180.50 C274.00,180.50 271.32,180.42 270.00,179.50 C268.68,178.58 268.10,176.50 268.10,175.00Z" fill="none" stroke="#000" stroke-width="0.7"/>
<path d="M269.20,175.00 C269.20,173.78 269.98,172.27 271.00,171.30 C272.02,170.33 273.70,169.52 275.30,169.20 C276.90,168.88 278.93,169.00 280.60,169.40 C282.27,169.80 284.33,170.73 285.30,171.60 C286.27,172.47 286.48,173.77 286.40,174.60 C286.32,175.43 285.33,176.48 284.80,176.60 C284.27,176.72 283.80,174.97 283.20,175.30 C282.60,175.63 282.40,177.90 281.20,178.60 C280.00,179.30 277.70,179.50 276.00,179.50 C274.30,179.50 272.13,179.35 271.00,178.60 C269.87,177.85 269.20,176.22 269.20,175.00Z" fill="none" stroke="#000" stroke-width="0.55"/>
<path d="M271.00,175.00 C271.17,174.08 272.00,172.67 273.00,172.00 C274.00,171.33 275.67,171.00 277.00,171.00 C278.33,171.00 280.08,171.42 281.00,172.00 C281.92,172.58 282.67,173.58 282.50,174.50 C282.33,175.42 281.25,176.87 280.00,177.50 C278.75,178.13 276.33,178.30 275.00,178.30 C273.67,178.30 272.67,178.05 272.00,177.50 C271.33,176.95 270.83,175.92 271.00,175.00Z" fill="none" stroke="#000" stroke-width="0.7"/>
<ellipse cx="275.50" cy="175.30" rx="1.60" ry="1.20" fill="none" stroke="#000" stroke-width="0.7"/>
<circle cx="185.7" cy="186.5" r="0.8" fill="#333"/>
<ellipse cx="253.40" cy="115.90" rx="6.80" ry="4.30" fill="none" stroke="#000" stroke-width="0.7"/>
<ellipse cx="253.80" cy="115.90" rx="5.80" ry="3.60" fill="none" stroke="#000" stroke-width="0.5"/>
<ellipse cx="254.70" cy="116.00" rx="3.70" ry="2.80" fill="none" stroke="#000" stroke-width="0.7"/>
<ellipse cx="255.30" cy="115.70" rx="1.00" ry="0.80" fill="none" stroke="#000" stroke-width="1.0"/>
<circle cx="255.3" cy="119.3" r="0.55" fill="#333"/>
<path d="M260.80,117.50 C260.80,116.50 261.63,115.12 262.50,114.50 C263.37,113.88 264.75,113.88 266.00,113.80 C267.25,113.72 268.87,113.72 270.00,114.00 C271.13,114.28 272.38,114.75 272.80,115.50 C273.22,116.25 272.97,117.67 272.50,118.50 C272.03,119.33 271.08,120.07 270.00,120.50 C268.92,120.93 267.25,121.10 266.00,121.10 C264.75,121.10 263.37,121.10 262.50,120.50 C261.63,119.90 260.80,118.50 260.80,117.50Z" fill="none" stroke="#000" stroke-width="0.7"/>
<path d="M262.80,118.20 C263.08,117.87 263.72,116.63 264.50,116.20 C265.28,115.77 266.42,115.58 267.50,115.60 C268.58,115.62 270.42,116.18 271.00,116.30" fill="none" stroke="#000" stroke-width="0.7"/>
<path d="M263.80,119.40 C264.33,119.27 265.88,118.63 267.00,118.60 C268.12,118.57 269.92,119.10 270.50,119.20" fill="none" stroke="#000" stroke-width="0.7"/>
<ellipse cx="280.20" cy="115.60" rx="7.40" ry="4.60" fill="none" stroke="#000" stroke-width="0.6"/>
<ellipse cx="280.00" cy="115.73" rx="6.66" ry="4.14" fill="none" stroke="#000" stroke-width="0.6"/>
<ellipse cx="279.80" cy="115.87" rx="5.92" ry="3.68" fill="none" stroke="#000" stroke-width="0.6"/>
<ellipse cx="279.30" cy="116.20" rx="4.07" ry="2.53" fill="none" stroke="#000" stroke-width="0.6"/>
<ellipse cx="279.30" cy="116.00" rx="1.00" ry="0.70" fill="none" stroke="#000" stroke-width="1.0"/>
<ellipse cx="297.00" cy="118.00" rx="2.00" ry="1.50" fill="none" stroke="#000" stroke-width="0.7"/>
<ellipse cx="193.40" cy="88.70" rx="2.00" ry="1.40" fill="none" stroke="#000" stroke-width="0.7"/>
<ellipse cx="326.50" cy="99.90" rx="5.40" ry="3.40" fill="none" stroke="#000" stroke-width="0.7"/>
<ellipse cx="326.00" cy="99.95" rx="1.80" ry="0.80" fill="none" stroke="#000" stroke-width="1.1"/>
<ellipse cx="387.70" cy="115.70" rx="1.90" ry="1.90" fill="none" stroke="#000" stroke-width="0.7"/>
<ellipse cx="301.80" cy="136.70" rx="2.00" ry="2.00" fill="none" stroke="#000" stroke-width="0.7"/>
<ellipse cx="370.90" cy="136.30" rx="6.00" ry="3.00" fill="none" stroke="#000" stroke-width="0.7"/>
<ellipse cx="303.80" cy="148.70" rx="2.00" ry="1.40" fill="none" stroke="#000" stroke-width="0.7"/>
<path d="M376.00,146.20 C376.50,146.20 377.50,148.70 377.50,149.50 C377.50,150.30 376.50,151.00 376.00,151.00 C375.50,151.00 374.50,150.30 374.50,149.50 C374.50,148.70 375.50,146.20 376.00,146.20Z" fill="none" stroke="#000" stroke-width="0.7"/>
<ellipse cx="304.30" cy="156.30" rx="7.00" ry="4.20" fill="none" stroke="#000" stroke-width="0.7"/>
<ellipse cx="304.30" cy="156.30" rx="3.85" ry="2.31" fill="none" stroke="#000" stroke-width="0.7"/>
<ellipse cx="369.00" cy="155.70" rx="6.60" ry="4.20" fill="none" stroke="#000" stroke-width="0.7"/>
<ellipse cx="369.00" cy="155.70" rx="3.63" ry="2.31" fill="none" stroke="#000" stroke-width="0.7"/>
<ellipse cx="379.30" cy="167.50" rx="3.80" ry="2.80" fill="none" stroke="#000" stroke-width="0.7" transform="rotate(-35 379.3 167.5)"/>
<circle cx="427.8" cy="127.0" r="0.9" fill="#333"/>
<ellipse cx="464.20" cy="141.10" rx="2.90" ry="2.10" fill="none" stroke="#000" stroke-width="0.7"/>
<ellipse cx="438.20" cy="155.30" rx="2.10" ry="1.90" fill="none" stroke="#000" stroke-width="0.7"/>
<ellipse cx="460.90" cy="153.80" rx="4.60" ry="2.20" fill="none" stroke="#000" stroke-width="0.7"/>
<circle cx="420.0" cy="160.6" r="0.8" fill="#333"/>
<ellipse cx="405.40" cy="168.40" rx="3.60" ry="2.80" fill="none" stroke="#000" stroke-width="0.7"/>
<ellipse cx="464.80" cy="183.80" rx="4.00" ry="2.80" fill="none" stroke="#000" stroke-width="0.7"/>
<ellipse cx="109.60" cy="210.70" rx="10.40" ry="5.10" fill="none" stroke="#000" stroke-width="0.6"/>
<ellipse cx="109.55" cy="210.70" rx="9.46" ry="4.64" fill="none" stroke="#000" stroke-width="0.6"/>
<ellipse cx="109.50" cy="210.70" rx="8.53" ry="4.18" fill="none" stroke="#000" stroke-width="0.6"/>
<ellipse cx="109.45" cy="210.70" rx="7.59" ry="3.72" fill="none" stroke="#000" stroke-width="0.6"/>
<ellipse cx="109.40" cy="210.70" rx="6.66" ry="3.26" fill="none" stroke="#000" stroke-width="0.6"/>
<ellipse cx="109.20" cy="210.70" rx="2.91" ry="1.43" fill="none" stroke="#000" stroke-width="0.6"/>
<ellipse cx="110.50" cy="203.70" rx="4.20" ry="1.20" fill="none" stroke="#000" stroke-width="0.7"/>
<ellipse cx="109.00" cy="219.10" rx="4.10" ry="1.50" fill="none" stroke="#000" stroke-width="0.7"/>
<circle cx="122.1" cy="212.4" r="0.7" fill="#333"/>
<ellipse cx="160.00" cy="218.30" rx="6.60" ry="3.60" fill="none" stroke="#000" stroke-width="0.7"/>
<ellipse cx="160.00" cy="218.30" rx="3.63" ry="1.98" fill="none" stroke="#000" stroke-width="0.7"/>
<ellipse cx="109.00" cy="275.80" rx="8.40" ry="5.50" fill="none" stroke="#000" stroke-width="0.55"/>
<ellipse cx="109.00" cy="275.80" rx="7.22" ry="4.73" fill="none" stroke="#000" stroke-width="0.55"/>
<ellipse cx="109.00" cy="275.80" rx="6.05" ry="3.96" fill="none" stroke="#000" stroke-width="0.55"/>
<ellipse cx="109.00" cy="275.80" rx="4.62" ry="3.03" fill="none" stroke="#000" stroke-width="0.55"/>
<ellipse cx="160.50" cy="275.80" rx="8.60" ry="5.20" fill="none" stroke="#000" stroke-width="0.55"/>
<ellipse cx="160.25" cy="275.80" rx="7.40" ry="4.47" fill="none" stroke="#000" stroke-width="0.55"/>
<ellipse cx="160.00" cy="275.80" rx="6.19" ry="3.74" fill="none" stroke="#000" stroke-width="0.55"/>
<ellipse cx="159.70" cy="275.80" rx="4.73" ry="2.86" fill="none" stroke="#000" stroke-width="0.55"/>
<ellipse cx="80.30" cy="198.60" rx="3.00" ry="1.70" fill="none" stroke="#000" stroke-width="0.7"/>
<ellipse cx="206.50" cy="200.80" rx="2.00" ry="1.50" fill="none" stroke="#000" stroke-width="0.7"/>
<circle cx="227.8" cy="196.0" r="0.6" fill="#333"/>
<ellipse cx="233.00" cy="248.10" rx="2.00" ry="2.00" fill="none" stroke="#000" stroke-width="0.7"/>
<circle cx="164.7" cy="295.4" r="0.6" fill="#333"/>
<circle cx="185.6" cy="187.0" r="0.6" fill="#333"/>
<circle cx="316.2" cy="253.2" r="0.75" fill="#333"/>
<circle cx="361.5" cy="287.0" r="0.75" fill="#333"/>
<circle cx="469.6" cy="266.0" r="0.75" fill="#333"/>
<circle cx="441.2" cy="306.6" r="0.75" fill="#333"/>
<circle cx="462.8" cy="335.8" r="0.75" fill="#333"/>
<line x1="108.7" y1="78.9" x2="108.7" y2="277" stroke="#f04848" stroke-width="1.1" stroke-dasharray="2.7 2.45"/>
<line x1="159.4" y1="77.1" x2="159.4" y2="277" stroke="#f04848" stroke-width="1.1" stroke-dasharray="2.7 2.45"/>
<line x1="73.5" y1="212" x2="108.7" y2="212" stroke="#f04848" stroke-width="1.1" stroke-dasharray="2.7 2.45"/>
<line x1="73.5" y1="218.5" x2="159.4" y2="218.5" stroke="#f04848" stroke-width="1.1" stroke-dasharray="2.7 2.45"/>
<line x1="73.5" y1="276.5" x2="159.4" y2="276.5" stroke="#f04848" stroke-width="1.1" stroke-dasharray="2.7 2.45"/>
<text x="293.6" y="212.6" font-size="11.8" text-anchor="start" fill="#000" >OBn</text>
<line x1="298.2" y1="213.8" x2="298.2" y2="230.6" stroke="#111" stroke-width="0.9" stroke-linecap="round"/>
<line x1="298.2" y1="230.6" x2="317" y2="243.9" stroke="#111" stroke-width="0.9" stroke-linecap="round"/>
<line x1="284.3" y1="234.7" x2="317" y2="243.9" stroke="#111" stroke-width="0.9" stroke-linecap="round"/>
<line x1="317" y1="243.9" x2="346.0" y2="237.8" stroke="#111" stroke-width="0.9" stroke-linecap="round"/>
<text x="346.6" y="240.8" font-size="11.8" text-anchor="start" fill="#000" >O</text>
<line x1="354.6" y1="241.8" x2="361.9" y2="256.8" stroke="#111" stroke-width="0.9" stroke-linecap="round"/>
<text x="244.0" y="252.3" font-size="11.8" text-anchor="start" fill="#000" >BnO</text>
<line x1="268.8" y1="244.8" x2="284.3" y2="234.7" stroke="#111" stroke-width="0.9" stroke-linecap="round"/>
<text x="258.0" y="263.4" font-size="11.8" text-anchor="start" fill="#000" >BnO</text>
<line x1="283.0" y1="260.7" x2="300.9" y2="263.8" stroke="#111" stroke-width="0.9" stroke-linecap="round"/>
<polygon points="284.0,234.5 284.8,234.3 302.6,263.2 299.2,265.0" fill="#000"/>
<line x1="300.9" y1="263.8" x2="326.0" y2="257.4" stroke="#111" stroke-width="2.9" stroke-linecap="round"/>
<polygon points="347.3,257.9 346.9,261.8 360.0,264.2 360.3,262.8" fill="#ff0000"/>
<line x1="340.6" y1="265.6" x2="343.4" y2="269.6" stroke="#111" stroke-width="0.9" stroke-linecap="round"/>
<text x="342.2" y="279.9" font-size="11.8" text-anchor="start" fill="#000" >OBn</text>
<line x1="334.1" y1="232.4" x2="334.1" y2="248.6" stroke="#ff0a0a" stroke-width="0.9" stroke-linecap="round"/>
<text x="330.0" y="227.4" font-size="12.2" fill="#ff0a0a">H<tspan font-size="8.7" dy="1.9">4</tspan></text>
<text x="330.4" y="259.9" font-size="12.4" fill="#ff0a0a">C<tspan font-size="9.0" dy="2.3">4</tspan></text>
<text x="362.8" y="270.3" font-size="12.4" fill="#ff0a0a">C<tspan font-size="9.0" dy="2.3">3</tspan></text>
<text x="390.4" y="258.3" font-size="12.4" fill="#ff0a0a">C<tspan font-size="9.0" dy="3.2">2</tspan></text>
<text x="390.4" y="281.3" font-size="12.4" fill="#ff0a0a">C<tspan font-size="9.0" dy="2.3">1</tspan></text>
<line x1="379.2" y1="260.6" x2="387.2" y2="256.6" stroke="#ff0a0a" stroke-width="0.9" stroke-linecap="round"/>
<line x1="379.5" y1="270.4" x2="387.3" y2="274.3" stroke="#ff0a0a" stroke-width="0.9" stroke-linecap="round"/>
<path d="M396.70,246.06 A38.6,38.6 0 1 1 393.75,282.93" fill="none" stroke="#444" stroke-width="1.05"/>
<text x="399.0" y="322.7" font-size="12.6" fill="#000">La<tspan font-size="9" dy="2.3">2</tspan><tspan dy="-2.3">@</tspan><tspan font-style="italic">I</tspan><tspan font-size="9" dy="2.3" font-style="italic">h</tspan><tspan dy="-2.3">-C</tspan><tspan font-size="9" dy="2.3">80</tspan></text>
</svg>
</body></html>
